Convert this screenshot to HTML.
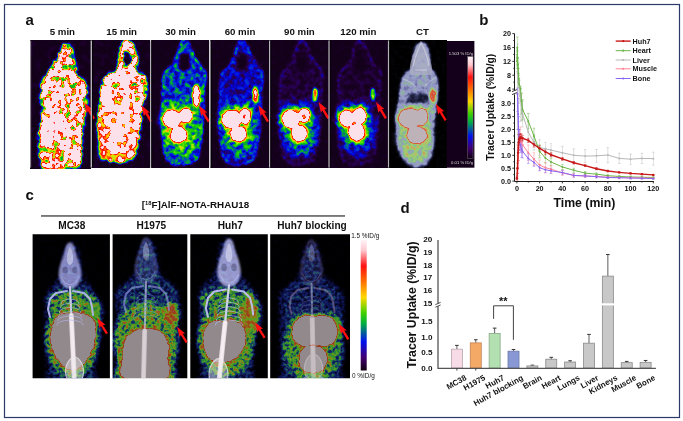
<!DOCTYPE html>
<html><head><meta charset="utf-8"><title>Figure</title>
<style>
html,body{margin:0;padding:0;background:#fff;}
body{width:683px;height:421px;overflow:hidden;position:relative;font-family:'Liberation Sans', Arial, sans-serif;}
svg{position:absolute;left:0;top:0;}
svg text{font-family:'Liberation Sans', Arial, sans-serif;fill:#111;}
.tk{font-size:7.2px;font-weight:bold;}
.tkd{font-size:8.1px;font-weight:bold;}
.lg{font-size:7.2px;font-weight:bold;}
.xl{font-size:8.0px;font-weight:bold;}
.lab{font-size:9.7px;font-weight:bold;}
.pl{font-size:15px;font-weight:bold;}
</style></head><body>
<svg width="683" height="421" viewBox="0 0 683 421">

<rect x="4.5" y="4.5" width="675" height="413" fill="#fff" stroke="#2b3a66" stroke-width="1.2"/>
<defs>
<filter id="pct" x="0" y="0" width="1" height="1" color-interpolation-filters="sRGB">
<feGaussianBlur in="SourceGraphic" stdDeviation="0.9" result="b"/>
<feColorMatrix in="b" type="matrix" values="1 0 0 0 0  1 0 0 0 0  1 0 0 0 0  0 0 0 0 1" result="br"/>
<feColorMatrix in="b" type="matrix" values="0 1 0 0 0  0 1 0 0 0  0 1 0 0 0  0 0 0 0 1" result="bg"/>
<feTurbulence type="fractalNoise" baseFrequency="0.22" numOctaves="2" seed="5" result="n0"/>
<feColorMatrix in="n0" type="matrix" values="2.4 0 0 0 -0.7  2.4 0 0 0 -0.7  2.4 0 0 0 -0.7  0 0 0 0 1" result="n"/>
<feComposite in="br" in2="n" operator="arithmetic" k1="0.45" k2="0.82" k3="0.03" k4="-0.015" result="m0"/>
<feComposite in="m0" in2="bg" operator="arithmetic" k1="0" k2="1" k3="1" k4="0" result="m"/>
<feComponentTransfer in="m">
<feFuncR type="table" tableValues="0.000 0.050 0.120 0.220 0.350 0.520 0.580 0.600 0.540 0.550 0.620 0.720 0.800 0.850 0.850 0.780 0.740 0.740 0.740 0.740 0.740"/>
<feFuncG type="table" tableValues="0.000 0.050 0.130 0.240 0.370 0.540 0.600 0.630 0.700 0.780 0.800 0.750 0.600 0.400 0.300 0.550 0.700 0.700 0.700 0.700 0.700"/>
<feFuncB type="table" tableValues="0.000 0.100 0.250 0.400 0.550 0.720 0.780 0.760 0.600 0.500 0.450 0.400 0.350 0.250 0.200 0.500 0.720 0.720 0.720 0.720 0.720"/>
</feComponentTransfer>
</filter>
<filter id="pa" x="0" y="0" width="1" height="1" color-interpolation-filters="sRGB">
<feGaussianBlur in="SourceGraphic" stdDeviation="1.2" result="b"/>
<feColorMatrix in="b" type="matrix" values="1 0 0 0 0  1 0 0 0 0  1 0 0 0 0  0 0 0 0 1" result="br"/>
<feColorMatrix in="b" type="matrix" values="0 1 0 0 0  0 1 0 0 0  0 1 0 0 0  0 0 0 0 1" result="bg"/>
<feTurbulence type="fractalNoise" baseFrequency="0.17" numOctaves="2" seed="3" result="n0"/>
<feColorMatrix in="n0" type="matrix" values="2.4 0 0 0 -0.7  2.4 0 0 0 -0.7  2.4 0 0 0 -0.7  0 0 0 0 1" result="n"/>
<feComposite in="br" in2="n" operator="arithmetic" k1="1.0" k2="0.45" k3="0.1" k4="-0.05" result="m0"/>
<feComposite in="m0" in2="bg" operator="arithmetic" k1="0" k2="1" k3="1" k4="0" result="m"/>
<feComponentTransfer in="m">
<feFuncR type="table" tableValues="0.075 0.110 0.160 0.060 0.000 0.000 0.000 0.050 0.250 0.600 0.950 1.000 1.000 1.000 1.000 0.990 0.990 0.990 0.990 0.990 0.990"/>
<feFuncG type="table" tableValues="0.000 0.000 0.000 0.000 0.040 0.250 0.550 0.780 0.860 0.900 0.880 0.620 0.350 0.120 0.050 0.870 0.880 0.880 0.880 0.880 0.880"/>
<feFuncB type="table" tableValues="0.100 0.170 0.330 0.620 0.920 0.800 0.350 0.050 0.000 0.000 0.000 0.000 0.000 0.000 0.020 0.910 0.920 0.920 0.920 0.920 0.920"/>
</feComponentTransfer>
</filter>
<filter id="pb" x="0" y="0" width="1" height="1" color-interpolation-filters="sRGB">
<feGaussianBlur in="SourceGraphic" stdDeviation="1.0" result="b"/>
<feColorMatrix in="b" type="matrix" values="1 0 0 0 0  1 0 0 0 0  1 0 0 0 0  0 0 0 0 1" result="br"/>
<feColorMatrix in="b" type="matrix" values="0 1 0 0 0  0 1 0 0 0  0 1 0 0 0  0 0 0 0 1" result="bg"/>
<feTurbulence type="fractalNoise" baseFrequency="0.2" numOctaves="2" seed="7" result="n0"/>
<feColorMatrix in="n0" type="matrix" values="2.4 0 0 0 -0.7  2.4 0 0 0 -0.7  2.4 0 0 0 -0.7  0 0 0 0 1" result="n"/>
<feComposite in="br" in2="n" operator="arithmetic" k1="0.6" k2="0.7" k3="0.05" k4="-0.025" result="m0"/>
<feComposite in="m0" in2="bg" operator="arithmetic" k1="0" k2="1" k3="1" k4="0" result="m"/>
<feComponentTransfer in="m">
<feFuncR type="table" tableValues="0.075 0.110 0.160 0.060 0.000 0.000 0.000 0.050 0.250 0.600 0.950 1.000 1.000 1.000 1.000 0.990 0.990 0.990 0.990 0.990 0.990"/>
<feFuncG type="table" tableValues="0.000 0.000 0.000 0.000 0.040 0.250 0.550 0.780 0.860 0.900 0.880 0.620 0.350 0.120 0.050 0.870 0.880 0.880 0.880 0.880 0.880"/>
<feFuncB type="table" tableValues="0.100 0.170 0.330 0.620 0.920 0.800 0.350 0.050 0.000 0.000 0.000 0.000 0.000 0.000 0.020 0.910 0.920 0.920 0.920 0.920 0.920"/>
</feComponentTransfer>
</filter>
<filter id="bl1" x="-20%" y="-20%" width="140%" height="140%"><feGaussianBlur stdDeviation="1"/></filter>
<filter id="bl2" x="-20%" y="-20%" width="140%" height="140%"><feGaussianBlur stdDeviation="2"/></filter>
<filter id="bl05" x="-20%" y="-20%" width="140%" height="140%"><feGaussianBlur stdDeviation="0.5"/></filter>
<linearGradient id="cbar" x1="0" y1="0" x2="0" y2="1"><stop offset="0" stop-color="#fff4f8"/><stop offset="0.08" stop-color="#ffc8d0"/><stop offset="0.2" stop-color="#ff1010"/><stop offset="0.32" stop-color="#ff7000"/><stop offset="0.44" stop-color="#ffd800"/><stop offset="0.56" stop-color="#40d000"/><stop offset="0.64" stop-color="#00b040"/><stop offset="0.78" stop-color="#0010f0"/><stop offset="0.9" stop-color="#400070"/><stop offset="1" stop-color="#100010"/></linearGradient>
<filter id="pc" x="0" y="0" width="1" height="1" color-interpolation-filters="sRGB">
<feGaussianBlur in="SourceGraphic" stdDeviation="1.0" result="b"/>
<feColorMatrix in="b" type="matrix" values="1 0 0 0 0  1 0 0 0 0  1 0 0 0 0  0 0 0 0 1" result="br"/>
<feColorMatrix in="b" type="matrix" values="0 1 0 0 0  0 1 0 0 0  0 1 0 0 0  0 0 0 0 1" result="bg"/>
<feTurbulence type="fractalNoise" baseFrequency="0.28" numOctaves="2" seed="11" result="n0"/>
<feColorMatrix in="n0" type="matrix" values="2.4 0 0 0 -0.7  2.4 0 0 0 -0.7  2.4 0 0 0 -0.7  0 0 0 0 1" result="n"/>
<feComposite in="br" in2="n" operator="arithmetic" k1="0.8" k2="0.55" k3="0.04" k4="-0.02" result="m0"/>
<feComposite in="m0" in2="bg" operator="arithmetic" k1="0" k2="1" k3="1" k4="0" result="m"/>
<feComponentTransfer in="m">
<feFuncR type="table" tableValues="0.000 0.010 0.030 0.060 0.080 0.100 0.160 0.220 0.320 0.460 0.560 0.600 0.620 0.600 0.580 0.570 0.570 0.570 0.570 0.570 0.570"/>
<feFuncG type="table" tableValues="0.000 0.010 0.040 0.080 0.160 0.320 0.480 0.580 0.620 0.580 0.460 0.320 0.220 0.240 0.460 0.540 0.540 0.540 0.540 0.540 0.540"/>
<feFuncB type="table" tableValues="0.000 0.060 0.180 0.340 0.420 0.360 0.240 0.180 0.140 0.120 0.100 0.100 0.100 0.140 0.440 0.550 0.550 0.550 0.550 0.550 0.550"/>
</feComponentTransfer>
</filter>
<clipPath id="cc0"><rect x="32.6" y="234.3" width="77.3" height="143.89999999999998"/></clipPath>
<clipPath id="cc1"><rect x="112.6" y="234.3" width="74.7" height="143.89999999999998"/></clipPath>
<clipPath id="cc2"><rect x="190.3" y="234.3" width="77.5" height="143.89999999999998"/></clipPath>
<clipPath id="cc3"><rect x="270.2" y="234.3" width="79.8" height="143.89999999999998"/></clipPath>
</defs>
<g filter="url(#pa)"><rect x="30.5" y="40.5" width="60.3" height="127.1" fill="#000"/>
<path d="M66.5,43.4 C68.0,44.1 70.5,47.2 71.9,50.5 C73.3,53.8 73.9,58.9 75.0,63.1 C76.1,67.3 76.6,71.9 78.4,75.6 C80.2,79.2 84.6,80.3 86.0,85.0 C87.4,89.7 87.0,98.0 86.6,103.8 C86.2,109.5 84.6,113.2 83.8,119.5 C83.0,125.8 82.4,134.6 81.9,141.4 C81.4,148.2 81.9,156.3 80.7,160.5 C79.5,164.7 81.2,165.8 75.0,166.8 C68.8,167.9 49.6,168.9 43.7,166.8 C37.9,164.7 40.7,159.8 39.9,154.0 C39.1,148.2 38.6,138.8 39.0,132.0 C39.4,125.2 41.8,120.5 42.1,113.2 C42.4,105.9 39.8,94.8 40.8,88.0 C41.8,81.2 45.2,77.7 48.0,72.5 C50.8,67.3 55.4,61.2 57.8,56.8 C60.2,52.4 61.1,48.4 62.6,46.2 C64.0,44.0 65.0,42.7 66.5,43.4Z" fill="rgb(235,13,0)" stroke="rgb(107,0,0)" stroke-width="2.6"/>
<ellipse cx="54" cy="156" rx="13" ry="9" fill="rgb(140,31,0)" filter="url(#bl2)"/>
<ellipse cx="66" cy="62" rx="6" ry="14" fill="rgb(178,0,0)" filter="url(#bl2)"/>
<ellipse cx="75" cy="120" rx="5" ry="14" fill="rgb(204,0,0)" filter="url(#bl2)"/>
<ellipse cx="66" cy="95" rx="16" ry="20" fill="rgb(219,0,0)" filter="url(#bl2)"/>
<ellipse cx="52" cy="128" rx="9" ry="13" fill="rgb(140,133,0)" filter="url(#bl2)"/>
<ellipse cx="48" cy="84" rx="5" ry="6" fill="rgb(153,122,0)" filter="url(#bl2)"/>
</g>
<g filter="url(#pa)"><rect x="91.4" y="40.5" width="58.0" height="127.1" fill="#000"/>
<path d="M126.0,41.8 C127.8,41.7 130.5,41.8 132.3,44.3 C134.1,46.8 136.1,52.4 137.0,56.8 C137.9,61.2 136.4,68.0 137.5,70.9 C138.6,73.8 141.8,72.2 143.3,74.0 C144.8,75.8 146.1,78.0 146.4,81.9 C146.7,85.8 145.7,92.4 144.9,97.6 C144.1,102.8 142.6,107.5 141.7,113.2 C140.8,118.9 140.3,126.2 139.5,132.0 C138.7,137.8 138.2,143.2 137.0,147.7 C135.8,152.1 134.9,156.3 132.3,158.7 C129.7,161.1 125.5,161.9 121.3,162.0 C117.1,162.1 110.8,161.9 107.2,159.0 C103.6,156.1 101.0,150.1 99.4,144.6 C97.8,139.1 97.7,133.1 97.8,125.8 C97.9,118.5 99.2,108.0 100.0,100.7 C100.8,93.4 101.0,86.4 102.5,81.9 C104.0,77.5 106.5,76.1 108.8,74.0 C111.1,71.9 114.8,72.7 116.6,69.3 C118.4,65.9 119.0,57.8 119.8,53.7 C120.6,49.6 120.3,46.9 121.3,44.9 C122.3,42.9 124.2,41.9 126.0,41.8Z" fill="rgb(230,46,0)" stroke="rgb(128,0,0)" stroke-width="2.4"/>
<ellipse cx="103" cy="142" rx="5" ry="19" fill="rgb(64,107,0)" filter="url(#bl1)"/>
<ellipse cx="119" cy="157" rx="14" ry="4.5" fill="rgb(64,107,0)" filter="url(#bl1)"/>
<ellipse cx="131" cy="146" rx="5" ry="7" fill="rgb(76,97,0)" filter="url(#bl2)"/>
<ellipse cx="118" cy="92" rx="6" ry="9" fill="rgb(178,0,0)" filter="url(#bl2)"/>
<ellipse cx="135" cy="90" rx="5" ry="12" fill="rgb(178,0,0)" filter="url(#bl2)"/>
<ellipse cx="142" cy="82" rx="3" ry="4" fill="rgb(140,0,0)" filter="url(#bl1)"/>
<ellipse cx="127.5" cy="58" rx="6.5" ry="10" fill="rgb(153,0,0)" filter="url(#bl1)"/>
<ellipse cx="127.5" cy="58.5" rx="3.8" ry="6.5" fill="rgb(13,0,0)" filter="url(#bl05)"/>
</g>
<g filter="url(#pb)"><rect x="151.0" y="40.5" width="58.0" height="127.1" fill="#000"/>
<path d="M184.5,41.5 C186.2,41.5 188.3,43.4 190.0,46.0 C191.7,48.6 192.8,53.7 194.5,57.0 C196.2,60.3 198.2,63.3 200.0,66.0 C201.8,68.7 204.3,69.3 205.0,73.0 C205.7,76.7 204.2,83.3 204.0,88.0 C203.8,92.7 203.8,96.0 203.5,101.0 C203.2,106.0 202.8,112.8 202.5,118.0 C202.2,123.2 202.1,126.7 201.5,132.0 C200.9,137.3 199.9,145.3 199.0,150.0 C198.1,154.7 198.5,157.7 196.0,160.0 C193.5,162.3 188.0,163.5 184.0,164.0 C180.0,164.5 175.0,164.2 172.0,163.0 C169.0,161.8 167.5,160.8 166.0,157.0 C164.5,153.2 163.6,146.2 163.0,140.0 C162.4,133.8 162.6,126.7 162.5,120.0 C162.4,113.3 162.4,105.8 162.5,100.0 C162.6,94.2 162.7,89.5 163.0,85.0 C163.3,80.5 163.0,76.2 164.5,73.0 C166.0,69.8 170.0,68.7 172.0,66.0 C174.0,63.3 175.2,60.3 176.5,57.0 C177.8,53.7 178.2,48.6 179.5,46.0 C180.8,43.4 182.8,41.5 184.5,41.5Z" fill="rgb(60,0,0)" stroke="rgb(75,0,0)" stroke-width="3"/>
<ellipse cx="182.0" cy="104" rx="19" ry="5" fill="rgb(72,0,0)" filter="url(#bl2)"/>
<ellipse cx="182.0" cy="132" rx="19" ry="26" fill="rgb(84,0,0)" filter="url(#bl2)"/>
<ellipse cx="184.5" cy="62" rx="5.5" ry="9.5" fill="rgb(5,0,0)" filter="url(#bl1)"/>
<ellipse cx="172.0" cy="119.0" rx="13.0" ry="13.0" fill="rgb(110,0,0)" filter="url(#bl2)"/>
<ellipse cx="185.6" cy="115.8" rx="9.4" ry="10.2" fill="rgb(110,0,0)" filter="url(#bl2)"/>
<ellipse cx="178.7" cy="134.8" rx="11.6" ry="11.3" fill="rgb(110,0,0)" filter="url(#bl2)"/>
<ellipse cx="172.0" cy="119.0" rx="9.0" ry="9.0" fill="rgb(0,255,0)"/>
<ellipse cx="185.6" cy="115.8" rx="6.5" ry="7.0" fill="rgb(0,255,0)"/>
<ellipse cx="178.7" cy="134.8" rx="8.0" ry="7.8" fill="rgb(0,255,0)"/>
<ellipse cx="196.3" cy="96.0" rx="3.6" ry="11.0" fill="rgb(97,145,0)" filter="url(#bl05)"/>
</g>
<g filter="url(#pb)"><rect x="210.3" y="40.5" width="59.0" height="127.1" fill="#000"/>
<path d="M242.0,41.5 C243.8,41.5 245.8,43.4 247.5,46.0 C249.2,48.6 250.3,53.7 252.0,57.0 C253.7,60.3 255.8,63.3 257.5,66.0 C259.2,68.7 261.8,69.3 262.5,73.0 C263.2,76.7 261.8,83.3 261.5,88.0 C261.2,92.7 261.2,96.0 261.0,101.0 C260.8,106.0 260.3,112.8 260.0,118.0 C259.7,123.2 259.6,126.7 259.0,132.0 C258.4,137.3 257.4,145.3 256.5,150.0 C255.6,154.7 256.0,157.7 253.5,160.0 C251.0,162.3 245.5,163.5 241.5,164.0 C237.5,164.5 232.5,164.2 229.5,163.0 C226.5,161.8 225.0,160.8 223.5,157.0 C222.0,153.2 221.1,146.2 220.5,140.0 C219.9,133.8 220.1,126.7 220.0,120.0 C219.9,113.3 219.9,105.8 220.0,100.0 C220.1,94.2 220.2,89.5 220.5,85.0 C220.8,80.5 220.5,76.2 222.0,73.0 C223.5,69.8 227.5,68.7 229.5,66.0 C231.5,63.3 232.8,60.3 234.0,57.0 C235.2,53.7 235.7,48.6 237.0,46.0 C238.3,43.4 240.2,41.5 242.0,41.5Z" fill="rgb(41,0,0)" stroke="rgb(56,0,0)" stroke-width="3"/>
<ellipse cx="239.5" cy="104" rx="19" ry="5" fill="rgb(55,0,0)" filter="url(#bl2)"/>
<ellipse cx="239.5" cy="132" rx="19" ry="26" fill="rgb(69,0,0)" filter="url(#bl2)"/>
<ellipse cx="242.0" cy="62" rx="5.5" ry="9.5" fill="rgb(5,0,0)" filter="url(#bl1)"/>
<ellipse cx="231.6" cy="119.3" rx="13.9" ry="12.9" fill="rgb(110,0,0)" filter="url(#bl2)"/>
<ellipse cx="245.0" cy="116.2" rx="8.0" ry="11.6" fill="rgb(110,0,0)" filter="url(#bl2)"/>
<ellipse cx="238.6" cy="134.0" rx="11.7" ry="10.6" fill="rgb(110,0,0)" filter="url(#bl2)"/>
<ellipse cx="231.6" cy="119.3" rx="9.6" ry="8.9" fill="rgb(0,255,0)"/>
<ellipse cx="245.0" cy="116.2" rx="5.5" ry="8.0" fill="rgb(0,255,0)"/>
<ellipse cx="238.6" cy="134.0" rx="8.1" ry="7.3" fill="rgb(0,255,0)"/>
<ellipse cx="244.2" cy="116.6" rx="1.5" ry="3.0" fill="rgb(128,0,0)"/>
<ellipse cx="255.5" cy="95.0" rx="2.8" ry="9.0" fill="rgb(75,113,0)" filter="url(#bl05)"/>
</g>
<g filter="url(#pb)"><rect x="269.9" y="40.5" width="59.4" height="127.1" fill="#000"/>
<path d="M302.0,41.5 C303.8,41.5 305.8,43.4 307.5,46.0 C309.2,48.6 310.3,53.7 312.0,57.0 C313.7,60.3 315.8,63.3 317.5,66.0 C319.2,68.7 321.8,69.3 322.5,73.0 C323.2,76.7 321.8,83.3 321.5,88.0 C321.2,92.7 321.2,96.0 321.0,101.0 C320.8,106.0 320.3,112.8 320.0,118.0 C319.7,123.2 319.6,126.7 319.0,132.0 C318.4,137.3 317.4,145.3 316.5,150.0 C315.6,154.7 316.0,157.7 313.5,160.0 C311.0,162.3 305.5,163.5 301.5,164.0 C297.5,164.5 292.5,164.2 289.5,163.0 C286.5,161.8 285.0,160.8 283.5,157.0 C282.0,153.2 281.1,146.2 280.5,140.0 C279.9,133.8 280.1,126.7 280.0,120.0 C279.9,113.3 279.9,105.8 280.0,100.0 C280.1,94.2 280.2,89.5 280.5,85.0 C280.8,80.5 280.5,76.2 282.0,73.0 C283.5,69.8 287.5,68.7 289.5,66.0 C291.5,63.3 292.8,60.3 294.0,57.0 C295.2,53.7 295.7,48.6 297.0,46.0 C298.3,43.4 300.2,41.5 302.0,41.5Z" fill="rgb(16,0,0)" stroke="rgb(31,0,0)" stroke-width="3"/>
<ellipse cx="299.5" cy="104" rx="19" ry="5" fill="rgb(39,0,0)" filter="url(#bl2)"/>
<ellipse cx="299.5" cy="132" rx="19" ry="26" fill="rgb(61,0,0)" filter="url(#bl2)"/>
<ellipse cx="302.0" cy="62" rx="5.5" ry="9.5" fill="rgb(5,0,0)" filter="url(#bl1)"/>
<ellipse cx="290.8" cy="119.0" rx="12.5" ry="13.0" fill="rgb(110,0,0)" filter="url(#bl2)"/>
<ellipse cx="304.2" cy="115.4" rx="8.4" ry="9.9" fill="rgb(110,0,0)" filter="url(#bl2)"/>
<ellipse cx="299.3" cy="133.6" rx="11.2" ry="11.3" fill="rgb(110,0,0)" filter="url(#bl2)"/>
<ellipse cx="290.8" cy="119.0" rx="8.6" ry="9.0" fill="rgb(0,255,0)"/>
<ellipse cx="304.2" cy="115.4" rx="5.8" ry="6.8" fill="rgb(0,255,0)"/>
<ellipse cx="299.3" cy="133.6" rx="7.7" ry="7.8" fill="rgb(0,255,0)"/>
<ellipse cx="304.1" cy="116.6" rx="1.6" ry="3.0" fill="rgb(128,0,0)"/>
<ellipse cx="315.0" cy="94.5" rx="2.6" ry="7.0" fill="rgb(61,92,0)" filter="url(#bl05)"/>
</g>
<g filter="url(#pb)"><rect x="329.3" y="40.5" width="58.7" height="127.1" fill="#000"/>
<path d="M360.0,41.5 C361.8,41.5 363.8,43.4 365.5,46.0 C367.2,48.6 368.3,53.7 370.0,57.0 C371.7,60.3 373.8,63.3 375.5,66.0 C377.2,68.7 379.8,69.3 380.5,73.0 C381.2,76.7 379.8,83.3 379.5,88.0 C379.2,92.7 379.2,96.0 379.0,101.0 C378.8,106.0 378.3,112.8 378.0,118.0 C377.7,123.2 377.6,126.7 377.0,132.0 C376.4,137.3 375.4,145.3 374.5,150.0 C373.6,154.7 374.0,157.7 371.5,160.0 C369.0,162.3 363.5,163.5 359.5,164.0 C355.5,164.5 350.5,164.2 347.5,163.0 C344.5,161.8 343.0,160.8 341.5,157.0 C340.0,153.2 339.1,146.2 338.5,140.0 C337.9,133.8 338.1,126.7 338.0,120.0 C337.9,113.3 337.9,105.8 338.0,100.0 C338.1,94.2 338.2,89.5 338.5,85.0 C338.8,80.5 338.5,76.2 340.0,73.0 C341.5,69.8 345.5,68.7 347.5,66.0 C349.5,63.3 350.8,60.3 352.0,57.0 C353.2,53.7 353.7,48.6 355.0,46.0 C356.3,43.4 358.2,41.5 360.0,41.5Z" fill="rgb(12,0,0)" stroke="rgb(28,0,0)" stroke-width="3"/>
<ellipse cx="357.5" cy="104" rx="19" ry="5" fill="rgb(32,0,0)" filter="url(#bl2)"/>
<ellipse cx="357.5" cy="132" rx="19" ry="26" fill="rgb(51,0,0)" filter="url(#bl2)"/>
<ellipse cx="360.0" cy="62" rx="5.5" ry="9.5" fill="rgb(5,0,0)" filter="url(#bl1)"/>
<ellipse cx="346.7" cy="118.4" rx="10.7" ry="12.0" fill="rgb(110,0,0)" filter="url(#bl2)"/>
<ellipse cx="359.6" cy="115.7" rx="9.6" ry="11.6" fill="rgb(110,0,0)" filter="url(#bl2)"/>
<ellipse cx="356.7" cy="132.2" rx="11.9" ry="11.9" fill="rgb(110,0,0)" filter="url(#bl2)"/>
<ellipse cx="346.7" cy="118.4" rx="7.4" ry="8.3" fill="rgb(0,255,0)"/>
<ellipse cx="359.6" cy="115.7" rx="6.6" ry="8.0" fill="rgb(0,255,0)"/>
<ellipse cx="356.7" cy="132.2" rx="8.2" ry="8.2" fill="rgb(0,255,0)"/>
<ellipse cx="373.0" cy="94.5" rx="2.4" ry="6.5" fill="rgb(46,69,0)" filter="url(#bl05)"/>
</g>
<g filter="url(#pct)"><rect x="388.8" y="40.5" width="58.0" height="127.1" fill="#000"/>
<path d="M421.5,42.5 C423.3,42.5 425.6,42.9 427.0,45.0 C428.4,47.1 429.3,51.2 430.0,55.0 C430.7,58.8 430.0,64.8 431.0,68.0 C432.0,71.2 434.8,71.0 436.0,74.0 C437.2,77.0 438.2,81.7 438.5,86.0 C438.8,90.3 438.0,95.0 437.5,100.0 C437.0,105.0 436.1,110.7 435.5,116.0 C434.9,121.3 434.4,126.7 434.0,132.0 C433.6,137.3 433.7,143.3 433.0,148.0 C432.3,152.7 431.5,157.0 430.0,160.0 C428.5,163.0 427.3,165.0 424.0,166.0 C420.7,167.0 413.3,167.0 410.0,166.0 C406.7,165.0 406.0,163.0 404.0,160.0 C402.0,157.0 399.2,152.7 398.0,148.0 C396.8,143.3 396.9,137.3 396.5,132.0 C396.1,126.7 395.2,121.3 395.5,116.0 C395.8,110.7 397.8,105.0 398.5,100.0 C399.2,95.0 399.1,90.3 400.0,86.0 C400.9,81.7 402.2,77.0 404.0,74.0 C405.8,71.0 409.5,71.2 411.0,68.0 C412.5,64.8 412.2,58.8 413.0,55.0 C413.8,51.2 414.6,47.1 416.0,45.0 C417.4,42.9 419.7,42.5 421.5,42.5Z" fill="rgb(76,0,0)"/>
<path d="M407,104 C406,97 409,92 414,92 C416,93 417,95 418,96 C419,94 421,92 424,92 C428,93 430,98 429,105 C422,106 413,106 407,104Z" fill="rgb(20,0,0)" filter="url(#bl1)"/>
<ellipse cx="417.5" cy="110" rx="16" ry="6" fill="rgb(117,0,0)" filter="url(#bl2)"/>
<ellipse cx="415" cy="138" rx="18" ry="20" fill="rgb(107,0,0)" filter="url(#bl2)"/>
<ellipse cx="416" cy="152" rx="14" ry="9" fill="rgb(117,0,0)" filter="url(#bl2)"/>
<ellipse cx="433" cy="96" rx="3.2" ry="7.5" fill="rgb(76,115,0)" filter="url(#bl05)"/>
<ellipse cx="410.0" cy="118.4" rx="14.3" ry="12.5" fill="rgb(115,0,0)" filter="url(#bl1)"/>
<ellipse cx="422.0" cy="116.9" rx="7.3" ry="10.7" fill="rgb(115,0,0)" filter="url(#bl1)"/>
<ellipse cx="417.0" cy="135.2" rx="13.3" ry="10.7" fill="rgb(115,0,0)" filter="url(#bl1)"/>
<ellipse cx="410.0" cy="118.4" rx="11.0" ry="9.6" fill="rgb(0,255,0)"/>
<ellipse cx="422.0" cy="116.9" rx="5.6" ry="8.2" fill="rgb(0,255,0)"/>
<ellipse cx="417.0" cy="135.2" rx="10.2" ry="8.2" fill="rgb(0,255,0)"/>
</g>
<g stroke="#d8d8e4" stroke-width="1.3" opacity="0.45" fill="none" filter="url(#bl05)"><path d="M403,79 Q410,81 416,87 M437,77 Q430,80 425,86"/></g>
<path d="M421,41 C424,44 428,52 430,60 C432,66 433,71 431,75 L411,75 C409,70 410,64 412,58 C414,50 418,44 421,41Z" fill="#aeb0c6" opacity="0.72" filter="url(#bl05)"/>
<path d="M421,43 C418,50 415,57 413,66 M421,43 C425,50 428,58 429,66 M415,70 L427,70" stroke="#e4e4f0" stroke-width="1" fill="none" opacity="0.6" filter="url(#bl05)"/>
<rect x="446.8" y="41" width="27.6" height="126.7" fill="#14001a"/>
<rect x="467.8" y="56.6" width="5.2" height="101.9" fill="url(#cbar)" stroke="#888" stroke-width="0.4"/>
<text x="473" y="54.8" text-anchor="end" font-size="4.2" fill="#ddd" style="fill:#ddd">1.503 % ID/g</text>
<text x="473" y="163.5" text-anchor="end" font-size="4.2" fill="#ddd" style="fill:#ddd">0.01 % ID/g</text>
<polygon points="84.2,102.4 92.6,109.6 90.0,109.8 94.9,118.1 92.9,119.4 87.9,111.0 86.5,113.2" fill="#ff1010"/>
<polygon points="141.6,105.4 150.0,112.6 147.4,112.8 152.3,121.1 150.3,122.4 145.3,114.0 143.9,116.2" fill="#ff1010"/>
<polygon points="198.9,105.3 207.3,112.5 204.7,112.7 209.6,121.0 207.6,122.3 202.6,113.9 201.2,116.1" fill="#ff1010"/>
<polygon points="258.3,105.3 266.7,112.5 264.1,112.7 269.0,121.0 267.0,122.3 262.0,113.9 260.6,116.1" fill="#ff1010"/>
<polygon points="318.6,101.9 327.0,109.1 324.4,109.3 329.3,117.6 327.3,118.9 322.3,110.5 320.9,112.7" fill="#ff1010"/>
<polygon points="376.1,101.9 384.5,109.1 381.9,109.3 386.8,117.6 384.8,118.9 379.8,110.5 378.4,112.7" fill="#ff1010"/>
<polygon points="435.9,104.0 444.3,111.2 441.7,111.4 446.6,119.7 444.6,121.0 439.6,112.6 438.2,114.8" fill="#ff1010"/>
<rect x="90.6" y="40.5" width="1.4" height="127.1" fill="#b6b2ba"/>
<rect x="92.0" y="40.5" width="0.8" height="127.1" fill="#000"/>
<rect x="150.0" y="40.5" width="1.4" height="127.1" fill="#b6b2ba"/>
<rect x="151.4" y="40.5" width="0.8" height="127.1" fill="#000"/>
<rect x="209.4" y="40.5" width="1.4" height="127.1" fill="#b6b2ba"/>
<rect x="210.8" y="40.5" width="0.8" height="127.1" fill="#000"/>
<rect x="269.0" y="40.5" width="1.4" height="127.1" fill="#b6b2ba"/>
<rect x="270.4" y="40.5" width="0.8" height="127.1" fill="#000"/>
<rect x="328.4" y="40.5" width="1.4" height="127.1" fill="#b6b2ba"/>
<rect x="329.79999999999995" y="40.5" width="0.8" height="127.1" fill="#000"/>
<rect x="387.9" y="40.5" width="1.4" height="127.1" fill="#b6b2ba"/>
<rect x="389.29999999999995" y="40.5" width="0.8" height="127.1" fill="#000"/>
<rect x="30.2" y="40.5" width="0.9" height="127.1" fill="#a8a4aa"/>
<g clip-path="url(#cc0)">
<g filter="url(#pc)"><rect x="32.6" y="234.3" width="77.3" height="143.89999999999998" fill="#000"/>
<path d="M71.3,242.0 C73.3,242.0 75.6,244.7 77.3,248.0 C79.0,251.3 80.1,257.0 81.3,262.0 C82.5,267.0 81.8,272.7 84.3,278.0 C86.8,283.3 94.1,288.3 96.3,294.0 C98.5,299.7 97.3,304.8 97.3,312.0 C97.3,319.2 96.6,328.0 96.3,337.0 C96.0,346.0 95.8,358.5 95.3,366.0 C94.8,373.5 101.0,379.3 93.3,382.0 C85.6,384.7 57.0,384.7 49.3,382.0 C41.6,379.3 47.8,373.5 47.3,366.0 C46.8,358.5 46.6,346.0 46.3,337.0 C46.0,328.0 45.3,319.2 45.3,312.0 C45.3,304.8 44.1,299.7 46.3,294.0 C48.5,288.3 55.8,283.3 58.3,278.0 C60.8,272.7 60.1,267.0 61.3,262.0 C62.5,257.0 63.6,251.3 65.3,248.0 C67.0,244.7 69.3,242.0 71.3,242.0Z" fill="rgb(43,0,0)" filter="url(#bl2)"/>
<ellipse cx="72" cy="340" rx="26" ry="36" fill="rgb(97,0,0)" filter="url(#bl2)"/>
<ellipse cx="72" cy="302" rx="24" ry="12" fill="rgb(92,0,0)" filter="url(#bl2)"/>
<path d="M52.5,313.6 C55.5,309.3 59.7,309.1 64.5,308.2 C69.2,307.3 76.0,307.2 81.2,308.2 C86.5,309.2 92.6,310.9 95.7,314.2 C98.8,317.5 99.5,322.7 99.8,328.0 C100.1,333.3 99.0,340.4 97.5,346.0 C96.0,351.6 93.5,357.2 90.8,361.6 C88.1,366.0 84.8,370.1 81.2,372.4 C77.7,374.7 73.2,376.4 69.2,375.4 C65.2,374.4 60.6,370.3 57.2,366.4 C53.9,362.5 50.6,357.4 48.9,352.0 C47.1,346.6 45.9,340.4 46.5,334.0 C47.1,327.6 49.5,317.9 52.5,313.6Z" fill="rgb(107,0,0)" filter="url(#bl2)"/>
<ellipse cx="94" cy="312" rx="8.4" ry="12.5" fill="rgb(107,0,0)" filter="url(#bl2)"/>
<ellipse cx="94" cy="312" rx="6" ry="10" fill="rgb(32,64,0)" filter="url(#bl1)"/>
<path d="M56.0,318.0 C58.5,314.4 62.0,314.2 66.0,313.5 C70.0,312.8 75.7,312.7 80.0,313.5 C84.3,314.3 89.4,315.8 92.0,318.5 C94.6,321.2 95.2,325.6 95.5,330.0 C95.8,334.4 94.8,340.3 93.5,345.0 C92.2,349.7 90.2,354.3 88.0,358.0 C85.8,361.7 83.0,365.1 80.0,367.0 C77.0,368.9 73.3,370.3 70.0,369.5 C66.7,368.7 62.8,365.2 60.0,362.0 C57.2,358.8 54.5,354.5 53.0,350.0 C51.5,345.5 50.5,340.3 51.0,335.0 C51.5,329.7 53.5,321.6 56.0,318.0Z" fill="rgb(0,255,0)"/>
</g>
<g opacity="0.92" stroke="#b8b8f4" fill="none" stroke-linecap="round" stroke-linejoin="round">
<path d="M70.0,243.0 C71.0,243.0 72.1,244.0 73.0,246.0 C73.9,248.0 74.5,251.8 75.5,255.0 C76.5,258.2 78.2,261.7 79.0,265.0 C79.8,268.3 80.7,272.0 80.5,275.0 C80.3,278.0 79.1,281.0 78.0,283.0 C76.9,285.0 76.0,286.3 74.0,287.0 C72.0,287.7 68.0,287.7 66.0,287.0 C64.0,286.3 63.1,285.0 62.0,283.0 C60.9,281.0 59.7,278.0 59.5,275.0 C59.3,272.0 60.2,268.3 61.0,265.0 C61.8,261.7 63.5,258.2 64.5,255.0 C65.5,251.8 66.1,248.0 67.0,246.0 C67.9,244.0 69.0,243.0 70.0,243.0Z" fill="#b8b8f4" fill-opacity="0.75" stroke-width="1.2" filter="url(#bl1)"/>
<path d="M70.0,247.0 C70.8,247.0 72.0,250.7 72.5,253.0 C73.0,255.3 73.4,259.0 73.0,261.0 C72.6,263.0 71.0,265.0 70.0,265.0 C69.0,265.0 67.4,263.0 67.0,261.0 C66.6,259.0 67.0,255.3 67.5,253.0 C68.0,250.7 69.2,247.0 70.0,247.0Z" fill="#f0f0ff" fill-opacity="0.55" stroke="none" filter="url(#bl05)"/>
<ellipse cx="65.2" cy="270.0" rx="2.6" ry="3.6" fill="#2a2a50" fill-opacity="0.35" stroke="none" filter="url(#bl05)"/>
<ellipse cx="74.8" cy="270.0" rx="2.6" ry="3.6" fill="#2a2a50" fill-opacity="0.35" stroke="none" filter="url(#bl05)"/>
<path d="M61.0,277.0 65.0,283.0 70.0,285.0 75.0,283.0 79.0,277.0" stroke-width="1" opacity="0.8" filter="url(#bl05)"/>
<g filter="url(#bl05)">
<line x1="70.0" y1="287.0" x2="74.5" y2="383.0" stroke-width="2.2" opacity="0.8"/>
<line x1="70.0" y1="287.0" x2="74.5" y2="383.0" stroke="#f0f0ff" stroke-width="1.8" stroke-dasharray="1.3 0.9" opacity="0.7"/>
<line x1="71.3" y1="315.5" x2="74.5" y2="383.0" stroke="#efe6ec" stroke-width="5" opacity="0.85"/>
<line x1="71.3" y1="315.5" x2="74.5" y2="383.0" stroke="#fff6fa" stroke-width="3.6" stroke-dasharray="1.6 1.1" opacity="0.85"/>
<polyline points="67.0,291.0 56.0,293.0 50.0,299.0 48.0,309.0 50.0,317.0" stroke-width="2"/>
<polyline points="73.0,291.0 84.0,293.0 90.0,299.0 92.0,307.0 93.0,315.0" stroke-width="2"/>
<path d="M70.0,299.0 Q60.0,300.0 61.0,304.0" stroke-width="0.8" opacity="0.8"/>
<path d="M70.0,299.0 Q80.0,300.0 79.0,304.0" stroke-width="0.8" opacity="0.8"/>
<path d="M70.0,303.2 Q59.2,304.2 60.2,308.2" stroke-width="0.8" opacity="0.8"/>
<path d="M70.0,303.2 Q80.8,304.2 79.8,308.2" stroke-width="0.8" opacity="0.8"/>
<path d="M70.0,307.4 Q58.4,308.4 59.4,312.4" stroke-width="0.8" opacity="0.8"/>
<path d="M70.0,307.4 Q81.6,308.4 80.6,312.4" stroke-width="0.8" opacity="0.8"/>
<path d="M70.0,311.6 Q57.6,312.6 58.6,316.6" stroke-width="0.8" opacity="0.8"/>
<path d="M70.0,311.6 Q82.4,312.6 81.4,316.6" stroke-width="0.8" opacity="0.8"/>
<path d="M70.0,315.8 Q56.8,316.8 57.8,320.8" stroke-width="0.8" opacity="0.8"/>
<path d="M70.0,315.8 Q83.2,316.8 82.2,320.8" stroke-width="0.8" opacity="0.8"/>
<path d="M70.0,320.0 Q56.0,321.0 57.0,325.0" stroke-width="0.8" opacity="0.8"/>
<path d="M70.0,320.0 Q84.0,321.0 83.0,325.0" stroke-width="0.8" opacity="0.8"/>
<path d="M74.5,357.0 C76.8,357.0 80.0,360.3 81.5,363.0 C83.0,365.7 83.7,370.0 83.5,373.0 C83.3,376.0 82.0,379.3 80.5,381.0 C79.0,382.7 76.5,383.0 74.5,383.0 C72.5,383.0 70.0,382.7 68.5,381.0 C67.0,379.3 65.7,376.0 65.5,373.0 C65.3,370.0 66.0,365.7 67.5,363.0 C69.0,360.3 72.2,357.0 74.5,357.0Z" fill="#f4eef2" fill-opacity="0.55" stroke="#f4eef4" stroke-width="1.2" opacity="0.8"/>
<polyline points="68.5,379.0 62.5,383.0 57.5,389.0" stroke="#e8e8f8" stroke-width="2"/>
<polyline points="80.5,379.0 86.5,383.0 91.5,389.0" stroke="#e8e8f8" stroke-width="2"/>
</g></g>
</g>
<g clip-path="url(#cc1)">
<g filter="url(#pc)"><rect x="112.6" y="234.3" width="74.7" height="143.89999999999998" fill="#000"/>
<path d="M147.5,238.0 C149.5,238.0 151.8,240.7 153.5,244.0 C155.2,247.3 156.3,253.0 157.5,258.0 C158.7,263.0 157.2,268.7 160.5,274.0 C163.8,279.3 174.5,284.3 177.5,290.0 C180.5,295.7 178.5,300.8 178.5,308.0 C178.5,315.2 177.8,323.0 177.5,333.0 C177.2,343.0 177.0,359.5 176.5,368.0 C176.0,376.5 183.8,381.3 174.5,384.0 C165.2,386.7 129.8,386.7 120.5,384.0 C111.2,381.3 119.0,376.5 118.5,368.0 C118.0,359.5 117.8,343.0 117.5,333.0 C117.2,323.0 116.5,315.2 116.5,308.0 C116.5,300.8 114.5,295.7 117.5,290.0 C120.5,284.3 131.2,279.3 134.5,274.0 C137.8,268.7 136.3,263.0 137.5,258.0 C138.7,253.0 139.8,247.3 141.5,244.0 C143.2,240.7 145.5,238.0 147.5,238.0Z" fill="rgb(48,0,0)" filter="url(#bl2)"/>
<ellipse cx="146" cy="342" rx="32" ry="40" fill="rgb(102,0,0)" filter="url(#bl2)"/>
<path d="M124.5,333.3 C127.3,330.3 131.7,327.5 136.5,326.1 C141.3,324.7 148.3,324.1 153.3,324.9 C158.3,325.7 163.3,327.7 166.5,330.9 C169.7,334.1 171.6,338.9 172.5,344.1 C173.4,349.3 172.3,355.6 171.9,362.1 C171.5,368.6 178.8,379.6 170.1,383.1 C161.4,386.6 128.4,386.6 119.7,383.1 C111.0,379.6 117.9,368.6 117.9,362.1 C117.9,355.6 118.6,348.9 119.7,344.1 C120.8,339.3 121.7,336.3 124.5,333.3Z" fill="rgb(107,0,0)" filter="url(#bl2)"/>
<ellipse cx="171" cy="314.5" rx="9.1" ry="13.1" fill="rgb(107,0,0)" filter="url(#bl2)"/>
<ellipse cx="171" cy="314.5" rx="6.5" ry="10.5" fill="rgb(49,98,0)" filter="url(#bl1)"/>
<path d="M128.0,336.0 C130.3,333.5 134.0,331.2 138.0,330.0 C142.0,328.8 147.8,328.3 152.0,329.0 C156.2,329.7 160.3,331.3 163.0,334.0 C165.7,336.7 167.2,340.7 168.0,345.0 C168.8,349.3 167.8,354.6 167.5,360.0 C167.2,365.4 173.2,374.6 166.0,377.5 C158.8,380.4 131.2,380.4 124.0,377.5 C116.8,374.6 122.5,365.4 122.5,360.0 C122.5,354.6 123.1,349.0 124.0,345.0 C124.9,341.0 125.7,338.5 128.0,336.0Z" fill="rgb(0,255,0)"/>
</g>
<g opacity="0.68" stroke="#8c94dc" fill="none" stroke-linecap="round" stroke-linejoin="round">
<path d="M146.0,238.0 C147.0,238.0 148.1,239.0 149.0,241.0 C149.9,243.0 150.5,246.8 151.5,250.0 C152.5,253.2 154.2,256.7 155.0,260.0 C155.8,263.3 156.7,267.0 156.5,270.0 C156.3,273.0 155.1,276.0 154.0,278.0 C152.9,280.0 152.0,281.3 150.0,282.0 C148.0,282.7 144.0,282.7 142.0,282.0 C140.0,281.3 139.1,280.0 138.0,278.0 C136.9,276.0 135.7,273.0 135.5,270.0 C135.3,267.0 136.2,263.3 137.0,260.0 C137.8,256.7 139.5,253.2 140.5,250.0 C141.5,246.8 142.1,243.0 143.0,241.0 C143.9,239.0 145.0,238.0 146.0,238.0Z" fill="#8c94dc" fill-opacity="0.3" stroke-width="1.2" filter="url(#bl1)"/>
<path d="M146.0,242.0 C146.8,242.0 148.0,245.7 148.5,248.0 C149.0,250.3 149.4,254.0 149.0,256.0 C148.6,258.0 147.0,260.0 146.0,260.0 C145.0,260.0 143.4,258.0 143.0,256.0 C142.6,254.0 143.0,250.3 143.5,248.0 C144.0,245.7 145.2,242.0 146.0,242.0Z" fill="#f0f0ff" fill-opacity="0.55" stroke="none" filter="url(#bl05)"/>
<ellipse cx="141.2" cy="265.0" rx="2.6" ry="3.6" fill="#2a2a50" fill-opacity="0.35" stroke="none" filter="url(#bl05)"/>
<ellipse cx="150.8" cy="265.0" rx="2.6" ry="3.6" fill="#2a2a50" fill-opacity="0.35" stroke="none" filter="url(#bl05)"/>
<path d="M137.0,272.0 141.0,278.0 146.0,280.0 151.0,278.0 155.0,272.0" stroke-width="1" opacity="0.8" filter="url(#bl05)"/>
<g filter="url(#bl05)">
<line x1="146.0" y1="282.0" x2="143.5" y2="378.0" stroke-width="2.2" opacity="0.8"/>
<line x1="146.0" y1="282.0" x2="143.5" y2="378.0" stroke="#f0f0ff" stroke-width="1.8" stroke-dasharray="1.3 0.9" opacity="0.7"/>
<line x1="144.7" y1="331.0" x2="143.5" y2="378.0" stroke="#efe6ec" stroke-width="5" opacity="0.8"/>
<line x1="144.7" y1="331.0" x2="143.5" y2="378.0" stroke="#fff6fa" stroke-width="3.6" stroke-dasharray="1.6 1.1" opacity="0.8"/>
<polyline points="143.0,286.0 132.0,288.0 126.0,294.0 124.0,304.0 126.0,312.0" stroke-width="2"/>
<polyline points="149.0,286.0 160.0,288.0 166.0,294.0 168.0,302.0 169.0,310.0" stroke-width="2"/>
<path d="M146.0,294.0 Q136.0,295.0 137.0,299.0" stroke-width="0.8" opacity="0.8"/>
<path d="M146.0,294.0 Q156.0,295.0 155.0,299.0" stroke-width="0.8" opacity="0.8"/>
<path d="M146.0,298.2 Q135.2,299.2 136.2,303.2" stroke-width="0.8" opacity="0.8"/>
<path d="M146.0,298.2 Q156.8,299.2 155.8,303.2" stroke-width="0.8" opacity="0.8"/>
<path d="M146.0,302.4 Q134.4,303.4 135.4,307.4" stroke-width="0.8" opacity="0.8"/>
<path d="M146.0,302.4 Q157.6,303.4 156.6,307.4" stroke-width="0.8" opacity="0.8"/>
<path d="M146.0,306.6 Q133.6,307.6 134.6,311.6" stroke-width="0.8" opacity="0.8"/>
<path d="M146.0,306.6 Q158.4,307.6 157.4,311.6" stroke-width="0.8" opacity="0.8"/>
<path d="M146.0,310.8 Q132.8,311.8 133.8,315.8" stroke-width="0.8" opacity="0.8"/>
<path d="M146.0,310.8 Q159.2,311.8 158.2,315.8" stroke-width="0.8" opacity="0.8"/>
<path d="M146.0,315.0 Q132.0,316.0 133.0,320.0" stroke-width="0.8" opacity="0.8"/>
<path d="M146.0,315.0 Q160.0,316.0 159.0,320.0" stroke-width="0.8" opacity="0.8"/>
</g></g>
</g>
<g clip-path="url(#cc2)">
<g filter="url(#pc)"><rect x="190.3" y="234.3" width="77.5" height="143.89999999999998" fill="#000"/>
<path d="M227.0,238.0 C229.0,238.0 231.3,240.7 233.0,244.0 C234.7,247.3 235.8,253.0 237.0,258.0 C238.2,263.0 237.2,268.7 240.0,274.0 C242.8,279.3 251.5,284.3 254.0,290.0 C256.5,295.7 255.0,300.8 255.0,308.0 C255.0,315.2 254.3,323.0 254.0,333.0 C253.7,343.0 253.5,359.5 253.0,368.0 C252.5,376.5 259.3,381.3 251.0,384.0 C242.7,386.7 211.3,386.7 203.0,384.0 C194.7,381.3 201.5,376.5 201.0,368.0 C200.5,359.5 200.3,343.0 200.0,333.0 C199.7,323.0 199.0,315.2 199.0,308.0 C199.0,300.8 197.5,295.7 200.0,290.0 C202.5,284.3 211.2,279.3 214.0,274.0 C216.8,268.7 215.8,263.0 217.0,258.0 C218.2,253.0 219.3,247.3 221.0,244.0 C222.7,240.7 225.0,238.0 227.0,238.0Z" fill="rgb(43,0,0)" filter="url(#bl2)"/>
<ellipse cx="226" cy="340" rx="28" ry="38" fill="rgb(99,0,0)" filter="url(#bl2)"/>
<ellipse cx="226" cy="300" rx="26" ry="12" fill="rgb(87,0,0)" filter="url(#bl2)"/>
<path d="M205.0,322.2 C207.4,319.7 211.4,317.3 214.6,316.8 C217.8,316.3 221.0,319.2 224.2,319.2 C227.4,319.2 230.2,316.1 233.8,316.8 C237.4,317.5 243.1,319.5 245.8,323.4 C248.5,327.3 250.2,335.0 250.0,340.2 C249.8,345.4 247.3,350.6 244.6,354.6 C241.9,358.6 238.0,362.1 233.8,364.2 C229.6,366.3 224.0,367.6 219.4,367.2 C214.8,366.8 209.4,365.1 206.2,361.8 C203.0,358.5 201.2,352.4 200.2,347.4 C199.2,342.4 199.4,336.0 200.2,331.8 C201.0,327.6 202.6,324.7 205.0,322.2Z" fill="rgb(107,0,0)" filter="url(#bl2)"/>
<ellipse cx="249.5" cy="315" rx="11.2" ry="22.5" fill="rgb(107,0,0)" filter="url(#bl2)"/>
<ellipse cx="249.5" cy="315" rx="8" ry="18" fill="rgb(44,89,0)" filter="url(#bl1)"/>
<path d="M208.0,325.0 C210.0,322.9 213.3,320.9 216.0,320.5 C218.7,320.1 221.3,322.5 224.0,322.5 C226.7,322.5 229.0,319.9 232.0,320.5 C235.0,321.1 239.8,322.8 242.0,326.0 C244.2,329.2 245.7,335.7 245.5,340.0 C245.3,344.3 243.2,348.7 241.0,352.0 C238.8,355.3 235.5,358.2 232.0,360.0 C228.5,361.8 223.8,362.8 220.0,362.5 C216.2,362.2 211.7,360.8 209.0,358.0 C206.3,355.2 204.8,350.2 204.0,346.0 C203.2,341.8 203.3,336.5 204.0,333.0 C204.7,329.5 206.0,327.1 208.0,325.0Z" fill="rgb(0,255,0)"/>
</g>
<g opacity="0.95" stroke="#c0c0f4" fill="none" stroke-linecap="round" stroke-linejoin="round">
<path d="M229.0,239.0 C230.1,239.0 231.2,240.1 232.2,242.2 C233.1,244.2 233.7,248.3 234.8,251.6 C235.8,254.9 237.6,258.6 238.4,262.1 C239.3,265.6 240.2,269.5 240.0,272.6 C239.9,275.8 238.5,278.9 237.4,281.0 C236.3,283.1 235.3,284.5 233.2,285.2 C231.1,285.9 226.9,285.9 224.8,285.2 C222.7,284.5 221.7,283.1 220.6,281.0 C219.5,278.9 218.1,275.8 218.0,272.6 C217.8,269.5 218.7,265.6 219.6,262.1 C220.4,258.6 222.2,254.9 223.2,251.6 C224.3,248.3 224.9,244.2 225.8,242.2 C226.8,240.1 227.9,239.0 229.0,239.0Z" fill="#c0c0f4" fill-opacity="0.8" stroke-width="1.2" filter="url(#bl1)"/>
<path d="M229.0,243.2 C229.9,243.2 231.1,247.1 231.6,249.5 C232.2,251.9 232.6,255.8 232.2,257.9 C231.7,260.0 230.1,262.1 229.0,262.1 C227.9,262.1 226.3,260.0 225.8,257.9 C225.4,255.8 225.8,251.9 226.4,249.5 C226.9,247.1 228.1,243.2 229.0,243.2Z" fill="#f0f0ff" fill-opacity="0.55" stroke="none" filter="url(#bl05)"/>
<ellipse cx="224.0" cy="267.4" rx="2.7" ry="3.8" fill="#2a2a50" fill-opacity="0.35" stroke="none" filter="url(#bl05)"/>
<ellipse cx="234.0" cy="267.4" rx="2.7" ry="3.8" fill="#2a2a50" fill-opacity="0.35" stroke="none" filter="url(#bl05)"/>
<path d="M219.6,274.7 223.8,281.0 229.0,283.1 234.2,281.0 238.4,274.7" stroke-width="1" opacity="0.8" filter="url(#bl05)"/>
<g filter="url(#bl05)">
<line x1="229.0" y1="285.2" x2="218.5" y2="386.0" stroke-width="2.3" opacity="0.8"/>
<line x1="229.0" y1="285.2" x2="218.5" y2="386.0" stroke="#f0f0ff" stroke-width="1.9" stroke-dasharray="1.3 0.9" opacity="0.7"/>
<line x1="225.1" y1="322.5" x2="218.5" y2="386.0" stroke="#efe6ec" stroke-width="5" opacity="0.85"/>
<line x1="225.1" y1="322.5" x2="218.5" y2="386.0" stroke="#fff6fa" stroke-width="3.6" stroke-dasharray="1.6 1.1" opacity="0.85"/>
<polyline points="225.8,289.4 214.3,291.5 208.0,297.8 205.9,308.3 208.0,316.7" stroke-width="2"/>
<polyline points="232.2,289.4 243.7,291.5 250.0,297.8 252.1,306.2 253.2,314.6" stroke-width="2"/>
<path d="M229.0,297.8 Q218.5,298.9 219.6,303.1" stroke-width="0.8" opacity="0.8"/>
<path d="M229.0,297.8 Q239.5,298.9 238.4,303.1" stroke-width="0.8" opacity="0.8"/>
<path d="M229.0,302.2 Q217.7,303.3 218.7,307.5" stroke-width="0.8" opacity="0.8"/>
<path d="M229.0,302.2 Q240.3,303.3 239.3,307.5" stroke-width="0.8" opacity="0.8"/>
<path d="M229.0,306.6 Q216.8,307.7 217.9,311.9" stroke-width="0.8" opacity="0.8"/>
<path d="M229.0,306.6 Q241.2,307.7 240.1,311.9" stroke-width="0.8" opacity="0.8"/>
<path d="M229.0,311.0 Q216.0,312.1 217.0,316.3" stroke-width="0.8" opacity="0.8"/>
<path d="M229.0,311.0 Q242.0,312.1 241.0,316.3" stroke-width="0.8" opacity="0.8"/>
<path d="M229.0,315.4 Q215.1,316.5 216.2,320.7" stroke-width="0.8" opacity="0.8"/>
<path d="M229.0,315.4 Q242.9,316.5 241.8,320.7" stroke-width="0.8" opacity="0.8"/>
<path d="M229.0,319.9 Q214.3,320.9 215.3,325.1" stroke-width="0.8" opacity="0.8"/>
<path d="M229.0,319.9 Q243.7,320.9 242.7,325.1" stroke-width="0.8" opacity="0.8"/>
<path d="M218.5,358.7 C220.9,358.7 224.3,362.2 225.8,365.0 C227.4,367.8 228.1,372.4 227.9,375.5 C227.8,378.6 226.4,382.1 224.8,383.9 C223.2,385.6 220.6,386.0 218.5,386.0 C216.4,386.0 213.8,385.6 212.2,383.9 C210.6,382.1 209.2,378.6 209.1,375.5 C208.9,372.4 209.6,367.8 211.2,365.0 C212.7,362.2 216.1,358.7 218.5,358.7Z" fill="#f4eef2" fill-opacity="0.55" stroke="#f4eef4" stroke-width="1.2" opacity="0.8"/>
<polyline points="212.2,381.8 205.9,386.0 200.7,392.3" stroke="#e8e8f8" stroke-width="2"/>
<polyline points="224.8,381.8 231.1,386.0 236.3,392.3" stroke="#e8e8f8" stroke-width="2"/>
</g></g>
</g>
<g clip-path="url(#cc3)">
<g filter="url(#pc)"><rect x="270.2" y="234.3" width="79.8" height="143.89999999999998" fill="#000"/>
<path d="M311.5,240.0 C313.5,240.0 315.8,242.7 317.5,246.0 C319.2,249.3 320.3,255.0 321.5,260.0 C322.7,265.0 321.0,270.7 324.5,276.0 C328.0,281.3 339.3,286.3 342.5,292.0 C345.7,297.7 343.5,302.8 343.5,310.0 C343.5,317.2 342.8,325.3 342.5,335.0 C342.2,344.7 342.0,359.8 341.5,368.0 C341.0,376.2 349.2,381.3 339.5,384.0 C329.8,386.7 293.2,386.7 283.5,384.0 C273.8,381.3 282.0,376.2 281.5,368.0 C281.0,359.8 280.8,344.7 280.5,335.0 C280.2,325.3 279.5,317.2 279.5,310.0 C279.5,302.8 277.3,297.7 280.5,292.0 C283.7,286.3 295.0,281.3 298.5,276.0 C302.0,270.7 300.3,265.0 301.5,260.0 C302.7,255.0 303.8,249.3 305.5,246.0 C307.2,242.7 309.5,240.0 311.5,240.0Z" fill="rgb(41,0,0)" filter="url(#bl2)"/>
<ellipse cx="313" cy="350" rx="30" ry="32" fill="rgb(84,0,0)" filter="url(#bl2)"/>
<path d="M293.6,317.9 C296.2,315.2 301.0,313.1 304.4,312.5 C307.8,311.9 310.8,314.3 313.9,314.3 C317.1,314.3 319.9,312.1 323.6,312.5 C327.2,312.9 332.6,313.8 335.6,316.7 C338.6,319.6 341.1,325.5 341.6,329.9 C342.1,334.3 341.0,339.9 338.6,343.1 C336.1,346.3 331.2,348.4 327.1,349.1 C323.0,349.8 318.3,347.3 313.9,347.3 C309.6,347.3 304.8,350.0 300.8,349.1 C296.8,348.2 292.1,345.3 289.9,341.9 C287.8,338.5 287.5,332.7 288.1,328.7 C288.8,324.7 290.9,320.6 293.6,317.9Z" fill="rgb(102,0,0)" filter="url(#bl2)"/>
<path d="M298.9,347.1 C301.6,344.2 307.3,342.8 311.9,342.5 C316.4,342.3 322.9,342.9 326.2,345.8 C329.4,348.7 331.6,355.5 331.4,360.1 C331.2,364.6 328.1,370.3 324.9,373.1 C321.6,375.9 316.2,377.2 311.9,377.0 C307.5,376.8 301.6,374.6 298.9,371.8 C296.2,369.0 295.6,364.2 295.6,360.1 C295.6,356.0 296.2,350.0 298.9,347.1Z" fill="rgb(102,0,0)" filter="url(#bl2)"/>
<ellipse cx="336" cy="326" rx="5.6" ry="10.0" fill="rgb(107,0,0)" filter="url(#bl2)"/>
<ellipse cx="336" cy="326" rx="4" ry="8" fill="rgb(34,69,0)" filter="url(#bl1)"/>
<path d="M297.0,320.0 C299.2,317.8 303.2,316.0 306.0,315.5 C308.8,315.0 311.3,317.0 314.0,317.0 C316.7,317.0 319.0,315.2 322.0,315.5 C325.0,315.8 329.5,316.6 332.0,319.0 C334.5,321.4 336.6,326.3 337.0,330.0 C337.4,333.7 336.5,338.3 334.5,341.0 C332.5,343.7 328.4,345.4 325.0,346.0 C321.6,346.6 317.7,344.5 314.0,344.5 C310.3,344.5 306.3,346.8 303.0,346.0 C299.7,345.2 295.8,342.8 294.0,340.0 C292.2,337.2 292.0,332.3 292.5,329.0 C293.0,325.7 294.8,322.2 297.0,320.0Z" fill="rgb(0,255,0)"/>
<path d="M302.0,350.0 C304.1,347.8 308.5,346.7 312.0,346.5 C315.5,346.3 320.5,346.8 323.0,349.0 C325.5,351.2 327.2,356.5 327.0,360.0 C326.8,363.5 324.5,367.8 322.0,370.0 C319.5,372.2 315.3,373.2 312.0,373.0 C308.7,372.8 304.1,371.2 302.0,369.0 C299.9,366.8 299.5,363.2 299.5,360.0 C299.5,356.8 299.9,352.2 302.0,350.0Z" fill="rgb(0,255,0)"/>
</g>
<g opacity="0.5" stroke="#9a88b0" fill="none" stroke-linecap="round" stroke-linejoin="round">
<path d="M311.5,240.0 C312.5,240.0 313.6,241.0 314.5,243.0 C315.4,245.0 316.0,248.8 317.0,252.0 C318.0,255.2 319.7,258.7 320.5,262.0 C321.3,265.3 322.2,269.0 322.0,272.0 C321.8,275.0 320.6,278.0 319.5,280.0 C318.4,282.0 317.5,283.3 315.5,284.0 C313.5,284.7 309.5,284.7 307.5,284.0 C305.5,283.3 304.6,282.0 303.5,280.0 C302.4,278.0 301.2,275.0 301.0,272.0 C300.8,269.0 301.7,265.3 302.5,262.0 C303.3,258.7 305.0,255.2 306.0,252.0 C307.0,248.8 307.6,245.0 308.5,243.0 C309.4,241.0 310.5,240.0 311.5,240.0Z" fill="#9a88b0" fill-opacity="0.2" stroke-width="1.2" filter="url(#bl1)"/>
<path d="M311.5,244.0 C312.3,244.0 313.5,247.7 314.0,250.0 C314.5,252.3 314.9,256.0 314.5,258.0 C314.1,260.0 312.5,262.0 311.5,262.0 C310.5,262.0 308.9,260.0 308.5,258.0 C308.1,256.0 308.5,252.3 309.0,250.0 C309.5,247.7 310.7,244.0 311.5,244.0Z" fill="#f0f0ff" fill-opacity="0.55" stroke="none" filter="url(#bl05)"/>
<ellipse cx="306.7" cy="267.0" rx="2.6" ry="3.6" fill="#2a2a50" fill-opacity="0.35" stroke="none" filter="url(#bl05)"/>
<ellipse cx="316.3" cy="267.0" rx="2.6" ry="3.6" fill="#2a2a50" fill-opacity="0.35" stroke="none" filter="url(#bl05)"/>
<path d="M302.5,274.0 306.5,280.0 311.5,282.0 316.5,280.0 320.5,274.0" stroke-width="1" opacity="0.8" filter="url(#bl05)"/>
<g filter="url(#bl05)">
<line x1="311.5" y1="284.0" x2="313.5" y2="380.0" stroke-width="2.2" opacity="0.8"/>
<line x1="311.5" y1="284.0" x2="313.5" y2="380.0" stroke="#f0f0ff" stroke-width="1.8" stroke-dasharray="1.3 0.9" opacity="0.7"/>
<line x1="312.2" y1="317.5" x2="313.5" y2="380.0" stroke="#efe6ec" stroke-width="5" opacity="0.9"/>
<line x1="312.2" y1="317.5" x2="313.5" y2="380.0" stroke="#fff6fa" stroke-width="3.6" stroke-dasharray="1.6 1.1" opacity="0.9"/>
<polyline points="308.5,288.0 297.5,290.0 291.5,296.0 289.5,306.0 291.5,314.0" stroke-width="2"/>
<polyline points="314.5,288.0 325.5,290.0 331.5,296.0 333.5,304.0 334.5,312.0" stroke-width="2"/>
<path d="M311.5,296.0 Q301.5,297.0 302.5,301.0" stroke-width="0.8" opacity="0.8"/>
<path d="M311.5,296.0 Q321.5,297.0 320.5,301.0" stroke-width="0.8" opacity="0.8"/>
<path d="M311.5,300.2 Q300.7,301.2 301.7,305.2" stroke-width="0.8" opacity="0.8"/>
<path d="M311.5,300.2 Q322.3,301.2 321.3,305.2" stroke-width="0.8" opacity="0.8"/>
<path d="M311.5,304.4 Q299.9,305.4 300.9,309.4" stroke-width="0.8" opacity="0.8"/>
<path d="M311.5,304.4 Q323.1,305.4 322.1,309.4" stroke-width="0.8" opacity="0.8"/>
<path d="M311.5,308.6 Q299.1,309.6 300.1,313.6" stroke-width="0.8" opacity="0.8"/>
<path d="M311.5,308.6 Q323.9,309.6 322.9,313.6" stroke-width="0.8" opacity="0.8"/>
<path d="M311.5,312.8 Q298.3,313.8 299.3,317.8" stroke-width="0.8" opacity="0.8"/>
<path d="M311.5,312.8 Q324.7,313.8 323.7,317.8" stroke-width="0.8" opacity="0.8"/>
<path d="M311.5,317.0 Q297.5,318.0 298.5,322.0" stroke-width="0.8" opacity="0.8"/>
<path d="M311.5,317.0 Q325.5,318.0 324.5,322.0" stroke-width="0.8" opacity="0.8"/>
<path d="M313.5,354.0 C315.8,354.0 319.0,357.3 320.5,360.0 C322.0,362.7 322.7,367.0 322.5,370.0 C322.3,373.0 321.0,376.3 319.5,378.0 C318.0,379.7 315.5,380.0 313.5,380.0 C311.5,380.0 309.0,379.7 307.5,378.0 C306.0,376.3 304.7,373.0 304.5,370.0 C304.3,367.0 305.0,362.7 306.5,360.0 C308.0,357.3 311.2,354.0 313.5,354.0Z" fill="#f4eef2" fill-opacity="0.55" stroke="#f4eef4" stroke-width="1.2" opacity="0.8"/>
<polyline points="307.5,376.0 301.5,380.0 296.5,386.0" stroke="#e8e8f8" stroke-width="2"/>
<polyline points="319.5,376.0 325.5,380.0 330.5,386.0" stroke="#e8e8f8" stroke-width="2"/>
</g></g>
</g>
<text x="141.7" y="207.9" class="lab" style="font-size:9.8px">[<tspan font-size="5.8" dy="-3.2">18</tspan><tspan dy="3.2">F]AlF-NOTA-RHAU18</tspan></text>
<rect x="41" y="215.1" width="304" height="1.7" fill="#6a6a6a"/>
<text x="71.8" y="228.6" text-anchor="middle" class="lab" style="font-size:10.1px">MC38</text>
<text x="151.3" y="228.6" text-anchor="middle" class="lab" style="font-size:10.1px">H1975</text>
<text x="230.3" y="228.6" text-anchor="middle" class="lab" style="font-size:10.1px">Huh7</text>
<text x="312.0" y="228.6" text-anchor="middle" class="lab" style="font-size:10.1px">Huh7 blocking</text>
<rect x="360.7" y="239.9" width="6" height="130.6" fill="url(#cbar)"/>
<text x="351.2" y="237.5" font-size="6.4" font-weight="normal">1.5 %ID/g</text>
<text x="352" y="377.8" font-size="6.4" font-weight="normal">0 %ID/g</text>
<polygon points="97.3,318.0 105.4,324.7 102.9,324.9 107.9,333.1 105.9,334.3 100.9,326.1 99.6,328.3" fill="#ff1010"/>
<polygon points="177.1,326.8 185.2,333.5 182.7,333.7 187.7,341.9 185.7,343.1 180.7,334.9 179.4,337.1" fill="#ff1010"/>
<polygon points="255.0,322.1 263.1,328.8 260.6,329.0 265.6,337.2 263.6,338.4 258.6,330.2 257.3,332.4" fill="#ff1010"/>
<polygon points="338.7,323.7 346.8,330.4 344.3,330.6 349.3,338.8 347.3,340.0 342.3,331.8 341.0,334.0" fill="#ff1010"/>
<text x="25.6" y="24.6" class="pl">a</text>
<text x="479.2" y="24.7" class="pl">b</text>
<text x="25.4" y="200.1" class="pl">c</text>
<text x="400.4" y="212.9" class="pl">d</text>
<text x="62.4" y="34.5" text-anchor="middle" class="lab">5 min</text>
<text x="121.7" y="34.5" text-anchor="middle" class="lab">15 min</text>
<text x="180.5" y="34.5" text-anchor="middle" class="lab">30 min</text>
<text x="240.0" y="34.5" text-anchor="middle" class="lab">60 min</text>
<text x="299.4" y="34.5" text-anchor="middle" class="lab">90 min</text>
<text x="358.4" y="34.5" text-anchor="middle" class="lab">120 min</text>
<text x="422.4" y="34.5" text-anchor="middle" class="lab">CT</text>
<line x1="517.47" y1="44.01" x2="517.47" y2="155.30" stroke="#b8b8b8" stroke-width="0.6" opacity="0.8"/>
<line x1="516.17" y1="44.01" x2="518.77" y2="44.01" stroke="#b8b8b8" stroke-width="0.6" opacity="0.8"/>
<line x1="516.17" y1="155.30" x2="518.77" y2="155.30" stroke="#b8b8b8" stroke-width="0.6" opacity="0.8"/>
<line x1="518.04" y1="68.30" x2="518.04" y2="129.50" stroke="#b8b8b8" stroke-width="0.6" opacity="0.8"/>
<line x1="516.74" y1="68.30" x2="519.34" y2="68.30" stroke="#b8b8b8" stroke-width="0.6" opacity="0.8"/>
<line x1="516.74" y1="129.50" x2="519.34" y2="129.50" stroke="#b8b8b8" stroke-width="0.6" opacity="0.8"/>
<line x1="519.17" y1="78.71" x2="519.17" y2="103.70" stroke="#b8b8b8" stroke-width="0.6" opacity="0.8"/>
<line x1="517.87" y1="78.71" x2="520.47" y2="78.71" stroke="#b8b8b8" stroke-width="0.6" opacity="0.8"/>
<line x1="517.87" y1="103.70" x2="520.47" y2="103.70" stroke="#b8b8b8" stroke-width="0.6" opacity="0.8"/>
<line x1="520.31" y1="88.08" x2="520.31" y2="121.76" stroke="#b8b8b8" stroke-width="0.6" opacity="0.8"/>
<line x1="519.01" y1="88.08" x2="521.61" y2="88.08" stroke="#b8b8b8" stroke-width="0.6" opacity="0.8"/>
<line x1="519.01" y1="121.76" x2="521.61" y2="121.76" stroke="#b8b8b8" stroke-width="0.6" opacity="0.8"/>
<line x1="521.45" y1="93.54" x2="521.45" y2="120.47" stroke="#b8b8b8" stroke-width="0.6" opacity="0.8"/>
<line x1="520.15" y1="93.54" x2="522.75" y2="93.54" stroke="#b8b8b8" stroke-width="0.6" opacity="0.8"/>
<line x1="520.15" y1="120.47" x2="522.75" y2="120.47" stroke="#b8b8b8" stroke-width="0.6" opacity="0.8"/>
<line x1="522.58" y1="101.12" x2="522.58" y2="126.92" stroke="#b8b8b8" stroke-width="0.6" opacity="0.8"/>
<line x1="521.28" y1="101.12" x2="523.88" y2="101.12" stroke="#b8b8b8" stroke-width="0.6" opacity="0.8"/>
<line x1="521.28" y1="126.92" x2="523.88" y2="126.92" stroke="#b8b8b8" stroke-width="0.6" opacity="0.8"/>
<line x1="528.27" y1="121.76" x2="528.27" y2="142.40" stroke="#b8b8b8" stroke-width="0.6" opacity="0.8"/>
<line x1="526.97" y1="121.76" x2="529.57" y2="121.76" stroke="#b8b8b8" stroke-width="0.6" opacity="0.8"/>
<line x1="526.97" y1="142.40" x2="529.57" y2="142.40" stroke="#b8b8b8" stroke-width="0.6" opacity="0.8"/>
<line x1="533.95" y1="134.66" x2="533.95" y2="150.14" stroke="#b8b8b8" stroke-width="0.6" opacity="0.8"/>
<line x1="532.65" y1="134.66" x2="535.25" y2="134.66" stroke="#b8b8b8" stroke-width="0.6" opacity="0.8"/>
<line x1="532.65" y1="150.14" x2="535.25" y2="150.14" stroke="#b8b8b8" stroke-width="0.6" opacity="0.8"/>
<line x1="539.63" y1="139.82" x2="539.63" y2="155.30" stroke="#b8b8b8" stroke-width="0.6" opacity="0.8"/>
<line x1="538.33" y1="139.82" x2="540.93" y2="139.82" stroke="#b8b8b8" stroke-width="0.6" opacity="0.8"/>
<line x1="538.33" y1="155.30" x2="540.93" y2="155.30" stroke="#b8b8b8" stroke-width="0.6" opacity="0.8"/>
<line x1="545.32" y1="142.40" x2="545.32" y2="155.30" stroke="#b8b8b8" stroke-width="0.6" opacity="0.8"/>
<line x1="544.02" y1="142.40" x2="546.62" y2="142.40" stroke="#b8b8b8" stroke-width="0.6" opacity="0.8"/>
<line x1="544.02" y1="155.30" x2="546.62" y2="155.30" stroke="#b8b8b8" stroke-width="0.6" opacity="0.8"/>
<line x1="551.00" y1="143.69" x2="551.00" y2="156.59" stroke="#b8b8b8" stroke-width="0.6" opacity="0.8"/>
<line x1="549.70" y1="143.69" x2="552.30" y2="143.69" stroke="#b8b8b8" stroke-width="0.6" opacity="0.8"/>
<line x1="549.70" y1="156.59" x2="552.30" y2="156.59" stroke="#b8b8b8" stroke-width="0.6" opacity="0.8"/>
<line x1="562.37" y1="146.27" x2="562.37" y2="159.17" stroke="#b8b8b8" stroke-width="0.6" opacity="0.8"/>
<line x1="561.07" y1="146.27" x2="563.67" y2="146.27" stroke="#b8b8b8" stroke-width="0.6" opacity="0.8"/>
<line x1="561.07" y1="159.17" x2="563.67" y2="159.17" stroke="#b8b8b8" stroke-width="0.6" opacity="0.8"/>
<line x1="573.73" y1="148.85" x2="573.73" y2="161.75" stroke="#b8b8b8" stroke-width="0.6" opacity="0.8"/>
<line x1="572.43" y1="148.85" x2="575.03" y2="148.85" stroke="#b8b8b8" stroke-width="0.6" opacity="0.8"/>
<line x1="572.43" y1="161.75" x2="575.03" y2="161.75" stroke="#b8b8b8" stroke-width="0.6" opacity="0.8"/>
<line x1="585.10" y1="149.62" x2="585.10" y2="162.52" stroke="#b8b8b8" stroke-width="0.6" opacity="0.8"/>
<line x1="583.80" y1="149.62" x2="586.40" y2="149.62" stroke="#b8b8b8" stroke-width="0.6" opacity="0.8"/>
<line x1="583.80" y1="162.52" x2="586.40" y2="162.52" stroke="#b8b8b8" stroke-width="0.6" opacity="0.8"/>
<line x1="596.47" y1="149.37" x2="596.47" y2="162.27" stroke="#b8b8b8" stroke-width="0.6" opacity="0.8"/>
<line x1="595.17" y1="149.37" x2="597.77" y2="149.37" stroke="#b8b8b8" stroke-width="0.6" opacity="0.8"/>
<line x1="595.17" y1="162.27" x2="597.77" y2="162.27" stroke="#b8b8b8" stroke-width="0.6" opacity="0.8"/>
<line x1="607.83" y1="147.30" x2="607.83" y2="162.78" stroke="#b8b8b8" stroke-width="0.6" opacity="0.8"/>
<line x1="606.53" y1="147.30" x2="609.13" y2="147.30" stroke="#b8b8b8" stroke-width="0.6" opacity="0.8"/>
<line x1="606.53" y1="162.78" x2="609.13" y2="162.78" stroke="#b8b8b8" stroke-width="0.6" opacity="0.8"/>
<line x1="619.20" y1="153.24" x2="619.20" y2="163.56" stroke="#b8b8b8" stroke-width="0.6" opacity="0.8"/>
<line x1="617.90" y1="153.24" x2="620.50" y2="153.24" stroke="#b8b8b8" stroke-width="0.6" opacity="0.8"/>
<line x1="617.90" y1="163.56" x2="620.50" y2="163.56" stroke="#b8b8b8" stroke-width="0.6" opacity="0.8"/>
<line x1="630.57" y1="154.01" x2="630.57" y2="164.33" stroke="#b8b8b8" stroke-width="0.6" opacity="0.8"/>
<line x1="629.27" y1="154.01" x2="631.87" y2="154.01" stroke="#b8b8b8" stroke-width="0.6" opacity="0.8"/>
<line x1="629.27" y1="164.33" x2="631.87" y2="164.33" stroke="#b8b8b8" stroke-width="0.6" opacity="0.8"/>
<line x1="641.93" y1="153.24" x2="641.93" y2="163.56" stroke="#b8b8b8" stroke-width="0.6" opacity="0.8"/>
<line x1="640.63" y1="153.24" x2="643.23" y2="153.24" stroke="#b8b8b8" stroke-width="0.6" opacity="0.8"/>
<line x1="640.63" y1="163.56" x2="643.23" y2="163.56" stroke="#b8b8b8" stroke-width="0.6" opacity="0.8"/>
<line x1="653.30" y1="152.20" x2="653.30" y2="165.10" stroke="#b8b8b8" stroke-width="0.6" opacity="0.8"/>
<line x1="652.00" y1="152.20" x2="654.60" y2="152.20" stroke="#b8b8b8" stroke-width="0.6" opacity="0.8"/>
<line x1="652.00" y1="165.10" x2="654.60" y2="165.10" stroke="#b8b8b8" stroke-width="0.6" opacity="0.8"/>
<line x1="517.01" y1="54.42" x2="517.01" y2="68.30" stroke="#6cb548" stroke-width="0.6" opacity="0.8"/>
<line x1="515.71" y1="54.42" x2="518.31" y2="54.42" stroke="#6cb548" stroke-width="0.6" opacity="0.8"/>
<line x1="515.71" y1="68.30" x2="518.31" y2="68.30" stroke="#6cb548" stroke-width="0.6" opacity="0.8"/>
<line x1="517.30" y1="37.07" x2="517.30" y2="57.89" stroke="#6cb548" stroke-width="0.6" opacity="0.8"/>
<line x1="516.00" y1="37.07" x2="518.60" y2="37.07" stroke="#6cb548" stroke-width="0.6" opacity="0.8"/>
<line x1="516.00" y1="57.89" x2="518.60" y2="57.89" stroke="#6cb548" stroke-width="0.6" opacity="0.8"/>
<line x1="517.58" y1="50.95" x2="517.58" y2="64.83" stroke="#6cb548" stroke-width="0.6" opacity="0.8"/>
<line x1="516.28" y1="50.95" x2="518.88" y2="50.95" stroke="#6cb548" stroke-width="0.6" opacity="0.8"/>
<line x1="516.28" y1="64.83" x2="518.88" y2="64.83" stroke="#6cb548" stroke-width="0.6" opacity="0.8"/>
<line x1="517.87" y1="57.89" x2="517.87" y2="71.77" stroke="#6cb548" stroke-width="0.6" opacity="0.8"/>
<line x1="516.57" y1="57.89" x2="519.17" y2="57.89" stroke="#6cb548" stroke-width="0.6" opacity="0.8"/>
<line x1="516.57" y1="71.77" x2="519.17" y2="71.77" stroke="#6cb548" stroke-width="0.6" opacity="0.8"/>
<line x1="518.15" y1="63.09" x2="518.15" y2="73.50" stroke="#6cb548" stroke-width="0.6" opacity="0.8"/>
<line x1="516.85" y1="63.09" x2="519.45" y2="63.09" stroke="#6cb548" stroke-width="0.6" opacity="0.8"/>
<line x1="516.85" y1="73.50" x2="519.45" y2="73.50" stroke="#6cb548" stroke-width="0.6" opacity="0.8"/>
<line x1="518.43" y1="68.30" x2="518.43" y2="78.71" stroke="#6cb548" stroke-width="0.6" opacity="0.8"/>
<line x1="517.13" y1="68.30" x2="519.73" y2="68.30" stroke="#6cb548" stroke-width="0.6" opacity="0.8"/>
<line x1="517.13" y1="78.71" x2="519.73" y2="78.71" stroke="#6cb548" stroke-width="0.6" opacity="0.8"/>
<line x1="518.72" y1="75.24" x2="518.72" y2="82.18" stroke="#6cb548" stroke-width="0.6" opacity="0.8"/>
<line x1="517.42" y1="75.24" x2="520.02" y2="75.24" stroke="#6cb548" stroke-width="0.6" opacity="0.8"/>
<line x1="517.42" y1="82.18" x2="520.02" y2="82.18" stroke="#6cb548" stroke-width="0.6" opacity="0.8"/>
<line x1="519.06" y1="80.45" x2="519.06" y2="87.39" stroke="#6cb548" stroke-width="0.6" opacity="0.8"/>
<line x1="517.76" y1="80.45" x2="520.36" y2="80.45" stroke="#6cb548" stroke-width="0.6" opacity="0.8"/>
<line x1="517.76" y1="87.39" x2="520.36" y2="87.39" stroke="#6cb548" stroke-width="0.6" opacity="0.8"/>
<line x1="520.54" y1="86.00" x2="520.54" y2="95.96" stroke="#6cb548" stroke-width="0.6" opacity="0.8"/>
<line x1="519.24" y1="86.00" x2="521.84" y2="86.00" stroke="#6cb548" stroke-width="0.6" opacity="0.8"/>
<line x1="519.24" y1="95.96" x2="521.84" y2="95.96" stroke="#6cb548" stroke-width="0.6" opacity="0.8"/>
<line x1="521.45" y1="93.04" x2="521.45" y2="114.02" stroke="#6cb548" stroke-width="0.6" opacity="0.8"/>
<line x1="520.15" y1="93.04" x2="522.75" y2="93.04" stroke="#6cb548" stroke-width="0.6" opacity="0.8"/>
<line x1="520.15" y1="114.02" x2="522.75" y2="114.02" stroke="#6cb548" stroke-width="0.6" opacity="0.8"/>
<line x1="522.58" y1="99.31" x2="522.58" y2="119.95" stroke="#6cb548" stroke-width="0.6" opacity="0.8"/>
<line x1="521.28" y1="99.31" x2="523.88" y2="99.31" stroke="#6cb548" stroke-width="0.6" opacity="0.8"/>
<line x1="521.28" y1="119.95" x2="523.88" y2="119.95" stroke="#6cb548" stroke-width="0.6" opacity="0.8"/>
<line x1="528.27" y1="113.50" x2="528.27" y2="128.98" stroke="#6cb548" stroke-width="0.6" opacity="0.8"/>
<line x1="526.97" y1="113.50" x2="529.57" y2="113.50" stroke="#6cb548" stroke-width="0.6" opacity="0.8"/>
<line x1="526.97" y1="128.98" x2="529.57" y2="128.98" stroke="#6cb548" stroke-width="0.6" opacity="0.8"/>
<line x1="533.95" y1="128.21" x2="533.95" y2="143.69" stroke="#6cb548" stroke-width="0.6" opacity="0.8"/>
<line x1="532.65" y1="128.21" x2="535.25" y2="128.21" stroke="#6cb548" stroke-width="0.6" opacity="0.8"/>
<line x1="532.65" y1="143.69" x2="535.25" y2="143.69" stroke="#6cb548" stroke-width="0.6" opacity="0.8"/>
<line x1="539.63" y1="144.98" x2="539.63" y2="157.88" stroke="#6cb548" stroke-width="0.6" opacity="0.8"/>
<line x1="538.33" y1="144.98" x2="540.93" y2="144.98" stroke="#6cb548" stroke-width="0.6" opacity="0.8"/>
<line x1="538.33" y1="157.88" x2="540.93" y2="157.88" stroke="#6cb548" stroke-width="0.6" opacity="0.8"/>
<line x1="545.32" y1="152.72" x2="545.32" y2="163.04" stroke="#6cb548" stroke-width="0.6" opacity="0.8"/>
<line x1="544.02" y1="152.72" x2="546.62" y2="152.72" stroke="#6cb548" stroke-width="0.6" opacity="0.8"/>
<line x1="544.02" y1="163.04" x2="546.62" y2="163.04" stroke="#6cb548" stroke-width="0.6" opacity="0.8"/>
<line x1="551.00" y1="158.14" x2="551.00" y2="165.88" stroke="#6cb548" stroke-width="0.6" opacity="0.8"/>
<line x1="549.70" y1="158.14" x2="552.30" y2="158.14" stroke="#6cb548" stroke-width="0.6" opacity="0.8"/>
<line x1="549.70" y1="165.88" x2="552.30" y2="165.88" stroke="#6cb548" stroke-width="0.6" opacity="0.8"/>
<line x1="562.37" y1="164.33" x2="562.37" y2="169.49" stroke="#6cb548" stroke-width="0.6" opacity="0.8"/>
<line x1="561.07" y1="164.33" x2="563.67" y2="164.33" stroke="#6cb548" stroke-width="0.6" opacity="0.8"/>
<line x1="561.07" y1="169.49" x2="563.67" y2="169.49" stroke="#6cb548" stroke-width="0.6" opacity="0.8"/>
<line x1="573.73" y1="168.20" x2="573.73" y2="172.33" stroke="#6cb548" stroke-width="0.6" opacity="0.8"/>
<line x1="572.43" y1="168.20" x2="575.03" y2="168.20" stroke="#6cb548" stroke-width="0.6" opacity="0.8"/>
<line x1="572.43" y1="172.33" x2="575.03" y2="172.33" stroke="#6cb548" stroke-width="0.6" opacity="0.8"/>
<line x1="585.10" y1="171.55" x2="585.10" y2="174.65" stroke="#6cb548" stroke-width="0.6" opacity="0.8"/>
<line x1="583.80" y1="171.55" x2="586.40" y2="171.55" stroke="#6cb548" stroke-width="0.6" opacity="0.8"/>
<line x1="583.80" y1="174.65" x2="586.40" y2="174.65" stroke="#6cb548" stroke-width="0.6" opacity="0.8"/>
<line x1="596.47" y1="172.84" x2="596.47" y2="175.42" stroke="#6cb548" stroke-width="0.6" opacity="0.8"/>
<line x1="595.17" y1="172.84" x2="597.77" y2="172.84" stroke="#6cb548" stroke-width="0.6" opacity="0.8"/>
<line x1="595.17" y1="175.42" x2="597.77" y2="175.42" stroke="#6cb548" stroke-width="0.6" opacity="0.8"/>
<line x1="607.83" y1="174.39" x2="607.83" y2="176.97" stroke="#6cb548" stroke-width="0.6" opacity="0.8"/>
<line x1="606.53" y1="174.39" x2="609.13" y2="174.39" stroke="#6cb548" stroke-width="0.6" opacity="0.8"/>
<line x1="606.53" y1="176.97" x2="609.13" y2="176.97" stroke="#6cb548" stroke-width="0.6" opacity="0.8"/>
<line x1="619.20" y1="175.42" x2="619.20" y2="177.49" stroke="#6cb548" stroke-width="0.6" opacity="0.8"/>
<line x1="617.90" y1="175.42" x2="620.50" y2="175.42" stroke="#6cb548" stroke-width="0.6" opacity="0.8"/>
<line x1="617.90" y1="177.49" x2="620.50" y2="177.49" stroke="#6cb548" stroke-width="0.6" opacity="0.8"/>
<line x1="630.57" y1="175.94" x2="630.57" y2="178.00" stroke="#6cb548" stroke-width="0.6" opacity="0.8"/>
<line x1="629.27" y1="175.94" x2="631.87" y2="175.94" stroke="#6cb548" stroke-width="0.6" opacity="0.8"/>
<line x1="629.27" y1="178.00" x2="631.87" y2="178.00" stroke="#6cb548" stroke-width="0.6" opacity="0.8"/>
<line x1="641.93" y1="176.20" x2="641.93" y2="178.26" stroke="#6cb548" stroke-width="0.6" opacity="0.8"/>
<line x1="640.63" y1="176.20" x2="643.23" y2="176.20" stroke="#6cb548" stroke-width="0.6" opacity="0.8"/>
<line x1="640.63" y1="178.26" x2="643.23" y2="178.26" stroke="#6cb548" stroke-width="0.6" opacity="0.8"/>
<line x1="653.30" y1="176.71" x2="653.30" y2="178.26" stroke="#6cb548" stroke-width="0.6" opacity="0.8"/>
<line x1="652.00" y1="176.71" x2="654.60" y2="176.71" stroke="#6cb548" stroke-width="0.6" opacity="0.8"/>
<line x1="652.00" y1="178.26" x2="654.60" y2="178.26" stroke="#6cb548" stroke-width="0.6" opacity="0.8"/>
<line x1="517.47" y1="168.20" x2="517.47" y2="181.10" stroke="#ff8494" stroke-width="0.6" opacity="0.8"/>
<line x1="516.17" y1="168.20" x2="518.77" y2="168.20" stroke="#ff8494" stroke-width="0.6" opacity="0.8"/>
<line x1="516.17" y1="181.10" x2="518.77" y2="181.10" stroke="#ff8494" stroke-width="0.6" opacity="0.8"/>
<line x1="518.04" y1="147.56" x2="518.04" y2="173.36" stroke="#ff8494" stroke-width="0.6" opacity="0.8"/>
<line x1="516.74" y1="147.56" x2="519.34" y2="147.56" stroke="#ff8494" stroke-width="0.6" opacity="0.8"/>
<line x1="516.74" y1="173.36" x2="519.34" y2="173.36" stroke="#ff8494" stroke-width="0.6" opacity="0.8"/>
<line x1="518.61" y1="134.66" x2="518.61" y2="160.46" stroke="#ff8494" stroke-width="0.6" opacity="0.8"/>
<line x1="517.31" y1="134.66" x2="519.90" y2="134.66" stroke="#ff8494" stroke-width="0.6" opacity="0.8"/>
<line x1="517.31" y1="160.46" x2="519.90" y2="160.46" stroke="#ff8494" stroke-width="0.6" opacity="0.8"/>
<line x1="519.17" y1="129.50" x2="519.17" y2="150.14" stroke="#ff8494" stroke-width="0.6" opacity="0.8"/>
<line x1="517.87" y1="129.50" x2="520.47" y2="129.50" stroke="#ff8494" stroke-width="0.6" opacity="0.8"/>
<line x1="517.87" y1="150.14" x2="520.47" y2="150.14" stroke="#ff8494" stroke-width="0.6" opacity="0.8"/>
<line x1="520.31" y1="126.92" x2="520.31" y2="147.56" stroke="#ff8494" stroke-width="0.6" opacity="0.8"/>
<line x1="519.01" y1="126.92" x2="521.61" y2="126.92" stroke="#ff8494" stroke-width="0.6" opacity="0.8"/>
<line x1="519.01" y1="147.56" x2="521.61" y2="147.56" stroke="#ff8494" stroke-width="0.6" opacity="0.8"/>
<line x1="521.45" y1="133.37" x2="521.45" y2="151.43" stroke="#ff8494" stroke-width="0.6" opacity="0.8"/>
<line x1="520.15" y1="133.37" x2="522.75" y2="133.37" stroke="#ff8494" stroke-width="0.6" opacity="0.8"/>
<line x1="520.15" y1="151.43" x2="522.75" y2="151.43" stroke="#ff8494" stroke-width="0.6" opacity="0.8"/>
<line x1="522.58" y1="137.24" x2="522.58" y2="152.72" stroke="#ff8494" stroke-width="0.6" opacity="0.8"/>
<line x1="521.28" y1="137.24" x2="523.88" y2="137.24" stroke="#ff8494" stroke-width="0.6" opacity="0.8"/>
<line x1="521.28" y1="152.72" x2="523.88" y2="152.72" stroke="#ff8494" stroke-width="0.6" opacity="0.8"/>
<line x1="528.27" y1="144.98" x2="528.27" y2="160.46" stroke="#ff8494" stroke-width="0.6" opacity="0.8"/>
<line x1="526.97" y1="144.98" x2="529.57" y2="144.98" stroke="#ff8494" stroke-width="0.6" opacity="0.8"/>
<line x1="526.97" y1="160.46" x2="529.57" y2="160.46" stroke="#ff8494" stroke-width="0.6" opacity="0.8"/>
<line x1="533.95" y1="152.72" x2="533.95" y2="165.62" stroke="#ff8494" stroke-width="0.6" opacity="0.8"/>
<line x1="532.65" y1="152.72" x2="535.25" y2="152.72" stroke="#ff8494" stroke-width="0.6" opacity="0.8"/>
<line x1="532.65" y1="165.62" x2="535.25" y2="165.62" stroke="#ff8494" stroke-width="0.6" opacity="0.8"/>
<line x1="539.63" y1="159.94" x2="539.63" y2="170.26" stroke="#ff8494" stroke-width="0.6" opacity="0.8"/>
<line x1="538.33" y1="159.94" x2="540.93" y2="159.94" stroke="#ff8494" stroke-width="0.6" opacity="0.8"/>
<line x1="538.33" y1="170.26" x2="540.93" y2="170.26" stroke="#ff8494" stroke-width="0.6" opacity="0.8"/>
<line x1="545.32" y1="162.52" x2="545.32" y2="172.84" stroke="#ff8494" stroke-width="0.6" opacity="0.8"/>
<line x1="544.02" y1="162.52" x2="546.62" y2="162.52" stroke="#ff8494" stroke-width="0.6" opacity="0.8"/>
<line x1="544.02" y1="172.84" x2="546.62" y2="172.84" stroke="#ff8494" stroke-width="0.6" opacity="0.8"/>
<line x1="551.00" y1="165.36" x2="551.00" y2="173.10" stroke="#ff8494" stroke-width="0.6" opacity="0.8"/>
<line x1="549.70" y1="165.36" x2="552.30" y2="165.36" stroke="#ff8494" stroke-width="0.6" opacity="0.8"/>
<line x1="549.70" y1="173.10" x2="552.30" y2="173.10" stroke="#ff8494" stroke-width="0.6" opacity="0.8"/>
<line x1="562.37" y1="170.26" x2="562.37" y2="175.42" stroke="#ff8494" stroke-width="0.6" opacity="0.8"/>
<line x1="561.07" y1="170.26" x2="563.67" y2="170.26" stroke="#ff8494" stroke-width="0.6" opacity="0.8"/>
<line x1="561.07" y1="175.42" x2="563.67" y2="175.42" stroke="#ff8494" stroke-width="0.6" opacity="0.8"/>
<line x1="573.73" y1="173.36" x2="573.73" y2="177.49" stroke="#ff8494" stroke-width="0.6" opacity="0.8"/>
<line x1="572.43" y1="173.36" x2="575.03" y2="173.36" stroke="#ff8494" stroke-width="0.6" opacity="0.8"/>
<line x1="572.43" y1="177.49" x2="575.03" y2="177.49" stroke="#ff8494" stroke-width="0.6" opacity="0.8"/>
<line x1="585.10" y1="174.39" x2="585.10" y2="177.49" stroke="#ff8494" stroke-width="0.6" opacity="0.8"/>
<line x1="583.80" y1="174.39" x2="586.40" y2="174.39" stroke="#ff8494" stroke-width="0.6" opacity="0.8"/>
<line x1="583.80" y1="177.49" x2="586.40" y2="177.49" stroke="#ff8494" stroke-width="0.6" opacity="0.8"/>
<line x1="596.47" y1="175.17" x2="596.47" y2="177.75" stroke="#ff8494" stroke-width="0.6" opacity="0.8"/>
<line x1="595.17" y1="175.17" x2="597.77" y2="175.17" stroke="#ff8494" stroke-width="0.6" opacity="0.8"/>
<line x1="595.17" y1="177.75" x2="597.77" y2="177.75" stroke="#ff8494" stroke-width="0.6" opacity="0.8"/>
<line x1="607.83" y1="175.94" x2="607.83" y2="178.52" stroke="#ff8494" stroke-width="0.6" opacity="0.8"/>
<line x1="606.53" y1="175.94" x2="609.13" y2="175.94" stroke="#ff8494" stroke-width="0.6" opacity="0.8"/>
<line x1="606.53" y1="178.52" x2="609.13" y2="178.52" stroke="#ff8494" stroke-width="0.6" opacity="0.8"/>
<line x1="619.20" y1="176.46" x2="619.20" y2="178.52" stroke="#ff8494" stroke-width="0.6" opacity="0.8"/>
<line x1="617.90" y1="176.46" x2="620.50" y2="176.46" stroke="#ff8494" stroke-width="0.6" opacity="0.8"/>
<line x1="617.90" y1="178.52" x2="620.50" y2="178.52" stroke="#ff8494" stroke-width="0.6" opacity="0.8"/>
<line x1="630.57" y1="176.71" x2="630.57" y2="178.78" stroke="#ff8494" stroke-width="0.6" opacity="0.8"/>
<line x1="629.27" y1="176.71" x2="631.87" y2="176.71" stroke="#ff8494" stroke-width="0.6" opacity="0.8"/>
<line x1="629.27" y1="178.78" x2="631.87" y2="178.78" stroke="#ff8494" stroke-width="0.6" opacity="0.8"/>
<line x1="641.93" y1="176.97" x2="641.93" y2="179.04" stroke="#ff8494" stroke-width="0.6" opacity="0.8"/>
<line x1="640.63" y1="176.97" x2="643.23" y2="176.97" stroke="#ff8494" stroke-width="0.6" opacity="0.8"/>
<line x1="640.63" y1="179.04" x2="643.23" y2="179.04" stroke="#ff8494" stroke-width="0.6" opacity="0.8"/>
<line x1="653.30" y1="177.49" x2="653.30" y2="179.04" stroke="#ff8494" stroke-width="0.6" opacity="0.8"/>
<line x1="652.00" y1="177.49" x2="654.60" y2="177.49" stroke="#ff8494" stroke-width="0.6" opacity="0.8"/>
<line x1="652.00" y1="179.04" x2="654.60" y2="179.04" stroke="#ff8494" stroke-width="0.6" opacity="0.8"/>
<line x1="517.47" y1="88.08" x2="517.47" y2="111.44" stroke="#8a64f4" stroke-width="0.6" opacity="0.8"/>
<line x1="516.17" y1="88.08" x2="518.77" y2="88.08" stroke="#8a64f4" stroke-width="0.6" opacity="0.8"/>
<line x1="516.17" y1="111.44" x2="518.77" y2="111.44" stroke="#8a64f4" stroke-width="0.6" opacity="0.8"/>
<line x1="518.04" y1="98.54" x2="518.04" y2="129.50" stroke="#8a64f4" stroke-width="0.6" opacity="0.8"/>
<line x1="516.74" y1="98.54" x2="519.34" y2="98.54" stroke="#8a64f4" stroke-width="0.6" opacity="0.8"/>
<line x1="516.74" y1="129.50" x2="519.34" y2="129.50" stroke="#8a64f4" stroke-width="0.6" opacity="0.8"/>
<line x1="518.61" y1="116.60" x2="518.61" y2="142.40" stroke="#8a64f4" stroke-width="0.6" opacity="0.8"/>
<line x1="517.31" y1="116.60" x2="519.90" y2="116.60" stroke="#8a64f4" stroke-width="0.6" opacity="0.8"/>
<line x1="517.31" y1="142.40" x2="519.90" y2="142.40" stroke="#8a64f4" stroke-width="0.6" opacity="0.8"/>
<line x1="519.17" y1="129.50" x2="519.17" y2="150.14" stroke="#8a64f4" stroke-width="0.6" opacity="0.8"/>
<line x1="517.87" y1="129.50" x2="520.47" y2="129.50" stroke="#8a64f4" stroke-width="0.6" opacity="0.8"/>
<line x1="517.87" y1="150.14" x2="520.47" y2="150.14" stroke="#8a64f4" stroke-width="0.6" opacity="0.8"/>
<line x1="520.31" y1="137.24" x2="520.31" y2="152.72" stroke="#8a64f4" stroke-width="0.6" opacity="0.8"/>
<line x1="519.01" y1="137.24" x2="521.61" y2="137.24" stroke="#8a64f4" stroke-width="0.6" opacity="0.8"/>
<line x1="519.01" y1="152.72" x2="521.61" y2="152.72" stroke="#8a64f4" stroke-width="0.6" opacity="0.8"/>
<line x1="521.45" y1="141.88" x2="521.45" y2="157.36" stroke="#8a64f4" stroke-width="0.6" opacity="0.8"/>
<line x1="520.15" y1="141.88" x2="522.75" y2="141.88" stroke="#8a64f4" stroke-width="0.6" opacity="0.8"/>
<line x1="520.15" y1="157.36" x2="522.75" y2="157.36" stroke="#8a64f4" stroke-width="0.6" opacity="0.8"/>
<line x1="522.58" y1="144.98" x2="522.58" y2="157.88" stroke="#8a64f4" stroke-width="0.6" opacity="0.8"/>
<line x1="521.28" y1="144.98" x2="523.88" y2="144.98" stroke="#8a64f4" stroke-width="0.6" opacity="0.8"/>
<line x1="521.28" y1="157.88" x2="523.88" y2="157.88" stroke="#8a64f4" stroke-width="0.6" opacity="0.8"/>
<line x1="528.27" y1="153.24" x2="528.27" y2="163.56" stroke="#8a64f4" stroke-width="0.6" opacity="0.8"/>
<line x1="526.97" y1="153.24" x2="529.57" y2="153.24" stroke="#8a64f4" stroke-width="0.6" opacity="0.8"/>
<line x1="526.97" y1="163.56" x2="529.57" y2="163.56" stroke="#8a64f4" stroke-width="0.6" opacity="0.8"/>
<line x1="533.95" y1="158.65" x2="533.95" y2="166.39" stroke="#8a64f4" stroke-width="0.6" opacity="0.8"/>
<line x1="532.65" y1="158.65" x2="535.25" y2="158.65" stroke="#8a64f4" stroke-width="0.6" opacity="0.8"/>
<line x1="532.65" y1="166.39" x2="535.25" y2="166.39" stroke="#8a64f4" stroke-width="0.6" opacity="0.8"/>
<line x1="539.63" y1="164.59" x2="539.63" y2="170.78" stroke="#8a64f4" stroke-width="0.6" opacity="0.8"/>
<line x1="538.33" y1="164.59" x2="540.93" y2="164.59" stroke="#8a64f4" stroke-width="0.6" opacity="0.8"/>
<line x1="538.33" y1="170.78" x2="540.93" y2="170.78" stroke="#8a64f4" stroke-width="0.6" opacity="0.8"/>
<line x1="545.32" y1="167.17" x2="545.32" y2="172.33" stroke="#8a64f4" stroke-width="0.6" opacity="0.8"/>
<line x1="544.02" y1="167.17" x2="546.62" y2="167.17" stroke="#8a64f4" stroke-width="0.6" opacity="0.8"/>
<line x1="544.02" y1="172.33" x2="546.62" y2="172.33" stroke="#8a64f4" stroke-width="0.6" opacity="0.8"/>
<line x1="551.00" y1="168.20" x2="551.00" y2="173.36" stroke="#8a64f4" stroke-width="0.6" opacity="0.8"/>
<line x1="549.70" y1="168.20" x2="552.30" y2="168.20" stroke="#8a64f4" stroke-width="0.6" opacity="0.8"/>
<line x1="549.70" y1="173.36" x2="552.30" y2="173.36" stroke="#8a64f4" stroke-width="0.6" opacity="0.8"/>
<line x1="562.37" y1="170.52" x2="562.37" y2="174.65" stroke="#8a64f4" stroke-width="0.6" opacity="0.8"/>
<line x1="561.07" y1="170.52" x2="563.67" y2="170.52" stroke="#8a64f4" stroke-width="0.6" opacity="0.8"/>
<line x1="561.07" y1="174.65" x2="563.67" y2="174.65" stroke="#8a64f4" stroke-width="0.6" opacity="0.8"/>
<line x1="573.73" y1="173.88" x2="573.73" y2="176.97" stroke="#8a64f4" stroke-width="0.6" opacity="0.8"/>
<line x1="572.43" y1="173.88" x2="575.03" y2="173.88" stroke="#8a64f4" stroke-width="0.6" opacity="0.8"/>
<line x1="572.43" y1="176.97" x2="575.03" y2="176.97" stroke="#8a64f4" stroke-width="0.6" opacity="0.8"/>
<line x1="585.10" y1="174.65" x2="585.10" y2="177.23" stroke="#8a64f4" stroke-width="0.6" opacity="0.8"/>
<line x1="583.80" y1="174.65" x2="586.40" y2="174.65" stroke="#8a64f4" stroke-width="0.6" opacity="0.8"/>
<line x1="583.80" y1="177.23" x2="586.40" y2="177.23" stroke="#8a64f4" stroke-width="0.6" opacity="0.8"/>
<line x1="596.47" y1="175.42" x2="596.47" y2="178.00" stroke="#8a64f4" stroke-width="0.6" opacity="0.8"/>
<line x1="595.17" y1="175.42" x2="597.77" y2="175.42" stroke="#8a64f4" stroke-width="0.6" opacity="0.8"/>
<line x1="595.17" y1="178.00" x2="597.77" y2="178.00" stroke="#8a64f4" stroke-width="0.6" opacity="0.8"/>
<line x1="607.83" y1="176.46" x2="607.83" y2="178.52" stroke="#8a64f4" stroke-width="0.6" opacity="0.8"/>
<line x1="606.53" y1="176.46" x2="609.13" y2="176.46" stroke="#8a64f4" stroke-width="0.6" opacity="0.8"/>
<line x1="606.53" y1="178.52" x2="609.13" y2="178.52" stroke="#8a64f4" stroke-width="0.6" opacity="0.8"/>
<line x1="619.20" y1="176.71" x2="619.20" y2="178.78" stroke="#8a64f4" stroke-width="0.6" opacity="0.8"/>
<line x1="617.90" y1="176.71" x2="620.50" y2="176.71" stroke="#8a64f4" stroke-width="0.6" opacity="0.8"/>
<line x1="617.90" y1="178.78" x2="620.50" y2="178.78" stroke="#8a64f4" stroke-width="0.6" opacity="0.8"/>
<line x1="630.57" y1="176.97" x2="630.57" y2="179.04" stroke="#8a64f4" stroke-width="0.6" opacity="0.8"/>
<line x1="629.27" y1="176.97" x2="631.87" y2="176.97" stroke="#8a64f4" stroke-width="0.6" opacity="0.8"/>
<line x1="629.27" y1="179.04" x2="631.87" y2="179.04" stroke="#8a64f4" stroke-width="0.6" opacity="0.8"/>
<line x1="641.93" y1="177.49" x2="641.93" y2="179.04" stroke="#8a64f4" stroke-width="0.6" opacity="0.8"/>
<line x1="640.63" y1="177.49" x2="643.23" y2="177.49" stroke="#8a64f4" stroke-width="0.6" opacity="0.8"/>
<line x1="640.63" y1="179.04" x2="643.23" y2="179.04" stroke="#8a64f4" stroke-width="0.6" opacity="0.8"/>
<line x1="653.30" y1="177.75" x2="653.30" y2="179.29" stroke="#8a64f4" stroke-width="0.6" opacity="0.8"/>
<line x1="652.00" y1="177.75" x2="654.60" y2="177.75" stroke="#8a64f4" stroke-width="0.6" opacity="0.8"/>
<line x1="652.00" y1="179.29" x2="654.60" y2="179.29" stroke="#8a64f4" stroke-width="0.6" opacity="0.8"/>
<line x1="516.90" y1="177.23" x2="516.90" y2="179.81" stroke="#c81818" stroke-width="0.6" opacity="0.8"/>
<line x1="515.60" y1="177.23" x2="518.20" y2="177.23" stroke="#c81818" stroke-width="0.6" opacity="0.8"/>
<line x1="515.60" y1="179.81" x2="518.20" y2="179.81" stroke="#c81818" stroke-width="0.6" opacity="0.8"/>
<line x1="517.47" y1="163.04" x2="517.47" y2="173.36" stroke="#c81818" stroke-width="0.6" opacity="0.8"/>
<line x1="516.17" y1="163.04" x2="518.77" y2="163.04" stroke="#c81818" stroke-width="0.6" opacity="0.8"/>
<line x1="516.17" y1="173.36" x2="518.77" y2="173.36" stroke="#c81818" stroke-width="0.6" opacity="0.8"/>
<line x1="518.04" y1="144.98" x2="518.04" y2="160.46" stroke="#c81818" stroke-width="0.6" opacity="0.8"/>
<line x1="516.74" y1="144.98" x2="519.34" y2="144.98" stroke="#c81818" stroke-width="0.6" opacity="0.8"/>
<line x1="516.74" y1="160.46" x2="519.34" y2="160.46" stroke="#c81818" stroke-width="0.6" opacity="0.8"/>
<line x1="518.61" y1="134.66" x2="518.61" y2="150.14" stroke="#c81818" stroke-width="0.6" opacity="0.8"/>
<line x1="517.31" y1="134.66" x2="519.90" y2="134.66" stroke="#c81818" stroke-width="0.6" opacity="0.8"/>
<line x1="517.31" y1="150.14" x2="519.90" y2="150.14" stroke="#c81818" stroke-width="0.6" opacity="0.8"/>
<line x1="519.17" y1="134.14" x2="519.17" y2="144.46" stroke="#c81818" stroke-width="0.6" opacity="0.8"/>
<line x1="517.87" y1="134.14" x2="520.47" y2="134.14" stroke="#c81818" stroke-width="0.6" opacity="0.8"/>
<line x1="517.87" y1="144.46" x2="520.47" y2="144.46" stroke="#c81818" stroke-width="0.6" opacity="0.8"/>
<line x1="519.74" y1="134.40" x2="519.74" y2="142.14" stroke="#c81818" stroke-width="0.6" opacity="0.8"/>
<line x1="518.44" y1="134.40" x2="521.04" y2="134.40" stroke="#c81818" stroke-width="0.6" opacity="0.8"/>
<line x1="518.44" y1="142.14" x2="521.04" y2="142.14" stroke="#c81818" stroke-width="0.6" opacity="0.8"/>
<line x1="520.31" y1="133.37" x2="520.31" y2="141.11" stroke="#c81818" stroke-width="0.6" opacity="0.8"/>
<line x1="519.01" y1="133.37" x2="521.61" y2="133.37" stroke="#c81818" stroke-width="0.6" opacity="0.8"/>
<line x1="519.01" y1="141.11" x2="521.61" y2="141.11" stroke="#c81818" stroke-width="0.6" opacity="0.8"/>
<line x1="521.45" y1="134.66" x2="521.45" y2="140.85" stroke="#c81818" stroke-width="0.6" opacity="0.8"/>
<line x1="520.15" y1="134.66" x2="522.75" y2="134.66" stroke="#c81818" stroke-width="0.6" opacity="0.8"/>
<line x1="520.15" y1="140.85" x2="522.75" y2="140.85" stroke="#c81818" stroke-width="0.6" opacity="0.8"/>
<line x1="522.58" y1="135.69" x2="522.58" y2="140.85" stroke="#c81818" stroke-width="0.6" opacity="0.8"/>
<line x1="521.28" y1="135.69" x2="523.88" y2="135.69" stroke="#c81818" stroke-width="0.6" opacity="0.8"/>
<line x1="521.28" y1="140.85" x2="523.88" y2="140.85" stroke="#c81818" stroke-width="0.6" opacity="0.8"/>
<line x1="528.27" y1="138.27" x2="528.27" y2="142.40" stroke="#c81818" stroke-width="0.6" opacity="0.8"/>
<line x1="526.97" y1="138.27" x2="529.57" y2="138.27" stroke="#c81818" stroke-width="0.6" opacity="0.8"/>
<line x1="526.97" y1="142.40" x2="529.57" y2="142.40" stroke="#c81818" stroke-width="0.6" opacity="0.8"/>
<line x1="533.95" y1="141.88" x2="533.95" y2="147.04" stroke="#c81818" stroke-width="0.6" opacity="0.8"/>
<line x1="532.65" y1="141.88" x2="535.25" y2="141.88" stroke="#c81818" stroke-width="0.6" opacity="0.8"/>
<line x1="532.65" y1="147.04" x2="535.25" y2="147.04" stroke="#c81818" stroke-width="0.6" opacity="0.8"/>
<line x1="539.63" y1="145.75" x2="539.63" y2="150.91" stroke="#c81818" stroke-width="0.6" opacity="0.8"/>
<line x1="538.33" y1="145.75" x2="540.93" y2="145.75" stroke="#c81818" stroke-width="0.6" opacity="0.8"/>
<line x1="538.33" y1="150.91" x2="540.93" y2="150.91" stroke="#c81818" stroke-width="0.6" opacity="0.8"/>
<line x1="545.32" y1="149.11" x2="545.32" y2="154.27" stroke="#c81818" stroke-width="0.6" opacity="0.8"/>
<line x1="544.02" y1="149.11" x2="546.62" y2="149.11" stroke="#c81818" stroke-width="0.6" opacity="0.8"/>
<line x1="544.02" y1="154.27" x2="546.62" y2="154.27" stroke="#c81818" stroke-width="0.6" opacity="0.8"/>
<line x1="551.00" y1="152.72" x2="551.00" y2="156.85" stroke="#c81818" stroke-width="0.6" opacity="0.8"/>
<line x1="549.70" y1="152.72" x2="552.30" y2="152.72" stroke="#c81818" stroke-width="0.6" opacity="0.8"/>
<line x1="549.70" y1="156.85" x2="552.30" y2="156.85" stroke="#c81818" stroke-width="0.6" opacity="0.8"/>
<line x1="562.37" y1="157.36" x2="562.37" y2="160.46" stroke="#c81818" stroke-width="0.6" opacity="0.8"/>
<line x1="561.07" y1="157.36" x2="563.67" y2="157.36" stroke="#c81818" stroke-width="0.6" opacity="0.8"/>
<line x1="561.07" y1="160.46" x2="563.67" y2="160.46" stroke="#c81818" stroke-width="0.6" opacity="0.8"/>
<line x1="573.73" y1="161.49" x2="573.73" y2="164.07" stroke="#c81818" stroke-width="0.6" opacity="0.8"/>
<line x1="572.43" y1="161.49" x2="575.03" y2="161.49" stroke="#c81818" stroke-width="0.6" opacity="0.8"/>
<line x1="572.43" y1="164.07" x2="575.03" y2="164.07" stroke="#c81818" stroke-width="0.6" opacity="0.8"/>
<line x1="585.10" y1="164.59" x2="585.10" y2="166.65" stroke="#c81818" stroke-width="0.6" opacity="0.8"/>
<line x1="583.80" y1="164.59" x2="586.40" y2="164.59" stroke="#c81818" stroke-width="0.6" opacity="0.8"/>
<line x1="583.80" y1="166.65" x2="586.40" y2="166.65" stroke="#c81818" stroke-width="0.6" opacity="0.8"/>
<line x1="596.47" y1="167.68" x2="596.47" y2="169.75" stroke="#c81818" stroke-width="0.6" opacity="0.8"/>
<line x1="595.17" y1="167.68" x2="597.77" y2="167.68" stroke="#c81818" stroke-width="0.6" opacity="0.8"/>
<line x1="595.17" y1="169.75" x2="597.77" y2="169.75" stroke="#c81818" stroke-width="0.6" opacity="0.8"/>
<line x1="607.83" y1="170.26" x2="607.83" y2="171.81" stroke="#c81818" stroke-width="0.6" opacity="0.8"/>
<line x1="606.53" y1="170.26" x2="609.13" y2="170.26" stroke="#c81818" stroke-width="0.6" opacity="0.8"/>
<line x1="606.53" y1="171.81" x2="609.13" y2="171.81" stroke="#c81818" stroke-width="0.6" opacity="0.8"/>
<line x1="619.20" y1="171.55" x2="619.20" y2="173.10" stroke="#c81818" stroke-width="0.6" opacity="0.8"/>
<line x1="617.90" y1="171.55" x2="620.50" y2="171.55" stroke="#c81818" stroke-width="0.6" opacity="0.8"/>
<line x1="617.90" y1="173.10" x2="620.50" y2="173.10" stroke="#c81818" stroke-width="0.6" opacity="0.8"/>
<line x1="630.57" y1="172.59" x2="630.57" y2="174.13" stroke="#c81818" stroke-width="0.6" opacity="0.8"/>
<line x1="629.27" y1="172.59" x2="631.87" y2="172.59" stroke="#c81818" stroke-width="0.6" opacity="0.8"/>
<line x1="629.27" y1="174.13" x2="631.87" y2="174.13" stroke="#c81818" stroke-width="0.6" opacity="0.8"/>
<line x1="641.93" y1="173.62" x2="641.93" y2="174.65" stroke="#c81818" stroke-width="0.6" opacity="0.8"/>
<line x1="640.63" y1="173.62" x2="643.23" y2="173.62" stroke="#c81818" stroke-width="0.6" opacity="0.8"/>
<line x1="640.63" y1="174.65" x2="643.23" y2="174.65" stroke="#c81818" stroke-width="0.6" opacity="0.8"/>
<line x1="653.30" y1="174.39" x2="653.30" y2="175.42" stroke="#c81818" stroke-width="0.6" opacity="0.8"/>
<line x1="652.00" y1="174.39" x2="654.60" y2="174.39" stroke="#c81818" stroke-width="0.6" opacity="0.8"/>
<line x1="652.00" y1="175.42" x2="654.60" y2="175.42" stroke="#c81818" stroke-width="0.6" opacity="0.8"/>
<polyline points="517.47,71.77 518.04,82.18 519.17,85.65 520.31,95.96 521.45,104.99 522.58,114.02 528.27,132.08 533.95,142.40 539.63,147.56 545.32,148.85 551.00,150.14 562.37,152.72 573.73,155.30 585.10,156.07 596.47,155.82 607.83,155.04 619.20,158.40 630.57,159.17 641.93,158.40 653.30,158.65" fill="none" stroke="#b8b8b8" stroke-width="1.0" stroke-linejoin="round"/>
<circle cx="517.47" cy="71.77" r="1.0" fill="#b8b8b8"/>
<circle cx="518.04" cy="82.18" r="1.0" fill="#b8b8b8"/>
<circle cx="519.17" cy="85.65" r="1.0" fill="#b8b8b8"/>
<circle cx="520.31" cy="95.96" r="1.0" fill="#b8b8b8"/>
<circle cx="521.45" cy="104.99" r="1.0" fill="#b8b8b8"/>
<circle cx="522.58" cy="114.02" r="1.0" fill="#b8b8b8"/>
<circle cx="528.27" cy="132.08" r="1.0" fill="#b8b8b8"/>
<circle cx="533.95" cy="142.40" r="1.0" fill="#b8b8b8"/>
<circle cx="539.63" cy="147.56" r="1.0" fill="#b8b8b8"/>
<circle cx="545.32" cy="148.85" r="1.0" fill="#b8b8b8"/>
<circle cx="551.00" cy="150.14" r="1.0" fill="#b8b8b8"/>
<circle cx="562.37" cy="152.72" r="1.0" fill="#b8b8b8"/>
<circle cx="573.73" cy="155.30" r="1.0" fill="#b8b8b8"/>
<circle cx="585.10" cy="156.07" r="1.0" fill="#b8b8b8"/>
<circle cx="596.47" cy="155.82" r="1.0" fill="#b8b8b8"/>
<circle cx="607.83" cy="155.04" r="1.0" fill="#b8b8b8"/>
<circle cx="619.20" cy="158.40" r="1.0" fill="#b8b8b8"/>
<circle cx="630.57" cy="159.17" r="1.0" fill="#b8b8b8"/>
<circle cx="641.93" cy="158.40" r="1.0" fill="#b8b8b8"/>
<circle cx="653.30" cy="158.65" r="1.0" fill="#b8b8b8"/>
<polyline points="517.01,61.36 517.30,47.48 517.58,57.89 517.87,64.83 518.15,68.30 518.43,73.50 518.72,78.71 519.06,83.92 520.54,88.77 521.45,101.12 522.58,109.63 528.27,121.24 533.95,135.95 539.63,151.43 545.32,157.88 551.00,162.01 562.37,166.91 573.73,170.26 585.10,173.10 596.47,174.13 607.83,175.68 619.20,176.46 630.57,176.97 641.93,177.23 653.30,177.49" fill="none" stroke="#6cb548" stroke-width="1.0" stroke-linejoin="round"/>
<circle cx="517.01" cy="61.36" r="1.0" fill="#6cb548"/>
<circle cx="517.30" cy="47.48" r="1.0" fill="#6cb548"/>
<circle cx="517.58" cy="57.89" r="1.0" fill="#6cb548"/>
<circle cx="517.87" cy="64.83" r="1.0" fill="#6cb548"/>
<circle cx="518.15" cy="68.30" r="1.0" fill="#6cb548"/>
<circle cx="518.43" cy="73.50" r="1.0" fill="#6cb548"/>
<circle cx="518.72" cy="78.71" r="1.0" fill="#6cb548"/>
<circle cx="519.06" cy="83.92" r="1.0" fill="#6cb548"/>
<circle cx="520.54" cy="88.77" r="1.0" fill="#6cb548"/>
<circle cx="521.45" cy="101.12" r="1.0" fill="#6cb548"/>
<circle cx="522.58" cy="109.63" r="1.0" fill="#6cb548"/>
<circle cx="528.27" cy="121.24" r="1.0" fill="#6cb548"/>
<circle cx="533.95" cy="135.95" r="1.0" fill="#6cb548"/>
<circle cx="539.63" cy="151.43" r="1.0" fill="#6cb548"/>
<circle cx="545.32" cy="157.88" r="1.0" fill="#6cb548"/>
<circle cx="551.00" cy="162.01" r="1.0" fill="#6cb548"/>
<circle cx="562.37" cy="166.91" r="1.0" fill="#6cb548"/>
<circle cx="573.73" cy="170.26" r="1.0" fill="#6cb548"/>
<circle cx="585.10" cy="173.10" r="1.0" fill="#6cb548"/>
<circle cx="596.47" cy="174.13" r="1.0" fill="#6cb548"/>
<circle cx="607.83" cy="175.68" r="1.0" fill="#6cb548"/>
<circle cx="619.20" cy="176.46" r="1.0" fill="#6cb548"/>
<circle cx="630.57" cy="176.97" r="1.0" fill="#6cb548"/>
<circle cx="641.93" cy="177.23" r="1.0" fill="#6cb548"/>
<circle cx="653.30" cy="177.49" r="1.0" fill="#6cb548"/>
<polyline points="517.47,175.94 518.04,160.46 518.61,147.56 519.17,139.82 520.31,137.24 521.45,142.40 522.58,144.98 528.27,152.72 533.95,159.17 539.63,165.10 545.32,167.68 551.00,169.23 562.37,172.84 573.73,175.42 585.10,175.94 596.47,176.46 607.83,177.23 619.20,177.49 630.57,177.75 641.93,178.00 653.30,178.26" fill="none" stroke="#ff8494" stroke-width="1.0" stroke-linejoin="round"/>
<circle cx="517.47" cy="175.94" r="1.0" fill="#ff8494"/>
<circle cx="518.04" cy="160.46" r="1.0" fill="#ff8494"/>
<circle cx="518.61" cy="147.56" r="1.0" fill="#ff8494"/>
<circle cx="519.17" cy="139.82" r="1.0" fill="#ff8494"/>
<circle cx="520.31" cy="137.24" r="1.0" fill="#ff8494"/>
<circle cx="521.45" cy="142.40" r="1.0" fill="#ff8494"/>
<circle cx="522.58" cy="144.98" r="1.0" fill="#ff8494"/>
<circle cx="528.27" cy="152.72" r="1.0" fill="#ff8494"/>
<circle cx="533.95" cy="159.17" r="1.0" fill="#ff8494"/>
<circle cx="539.63" cy="165.10" r="1.0" fill="#ff8494"/>
<circle cx="545.32" cy="167.68" r="1.0" fill="#ff8494"/>
<circle cx="551.00" cy="169.23" r="1.0" fill="#ff8494"/>
<circle cx="562.37" cy="172.84" r="1.0" fill="#ff8494"/>
<circle cx="573.73" cy="175.42" r="1.0" fill="#ff8494"/>
<circle cx="585.10" cy="175.94" r="1.0" fill="#ff8494"/>
<circle cx="596.47" cy="176.46" r="1.0" fill="#ff8494"/>
<circle cx="607.83" cy="177.23" r="1.0" fill="#ff8494"/>
<circle cx="619.20" cy="177.49" r="1.0" fill="#ff8494"/>
<circle cx="630.57" cy="177.75" r="1.0" fill="#ff8494"/>
<circle cx="641.93" cy="178.00" r="1.0" fill="#ff8494"/>
<circle cx="653.30" cy="178.26" r="1.0" fill="#ff8494"/>
<polyline points="517.47,94.03 518.04,114.02 518.61,129.50 519.17,139.82 520.31,144.98 521.45,149.62 522.58,151.43 528.27,158.40 533.95,162.52 539.63,167.68 545.32,169.75 551.00,170.78 562.37,172.59 573.73,175.42 585.10,175.94 596.47,176.71 607.83,177.49 619.20,177.75 630.57,178.00 641.93,178.26 653.30,178.52" fill="none" stroke="#8a64f4" stroke-width="1.0" stroke-linejoin="round"/>
<circle cx="517.47" cy="94.03" r="1.0" fill="#8a64f4"/>
<circle cx="518.04" cy="114.02" r="1.0" fill="#8a64f4"/>
<circle cx="518.61" cy="129.50" r="1.0" fill="#8a64f4"/>
<circle cx="519.17" cy="139.82" r="1.0" fill="#8a64f4"/>
<circle cx="520.31" cy="144.98" r="1.0" fill="#8a64f4"/>
<circle cx="521.45" cy="149.62" r="1.0" fill="#8a64f4"/>
<circle cx="522.58" cy="151.43" r="1.0" fill="#8a64f4"/>
<circle cx="528.27" cy="158.40" r="1.0" fill="#8a64f4"/>
<circle cx="533.95" cy="162.52" r="1.0" fill="#8a64f4"/>
<circle cx="539.63" cy="167.68" r="1.0" fill="#8a64f4"/>
<circle cx="545.32" cy="169.75" r="1.0" fill="#8a64f4"/>
<circle cx="551.00" cy="170.78" r="1.0" fill="#8a64f4"/>
<circle cx="562.37" cy="172.59" r="1.0" fill="#8a64f4"/>
<circle cx="573.73" cy="175.42" r="1.0" fill="#8a64f4"/>
<circle cx="585.10" cy="175.94" r="1.0" fill="#8a64f4"/>
<circle cx="596.47" cy="176.71" r="1.0" fill="#8a64f4"/>
<circle cx="607.83" cy="177.49" r="1.0" fill="#8a64f4"/>
<circle cx="619.20" cy="177.75" r="1.0" fill="#8a64f4"/>
<circle cx="630.57" cy="178.00" r="1.0" fill="#8a64f4"/>
<circle cx="641.93" cy="178.26" r="1.0" fill="#8a64f4"/>
<circle cx="653.30" cy="178.52" r="1.0" fill="#8a64f4"/>
<polyline points="516.90,178.52 517.47,168.20 518.04,152.72 518.61,142.40 519.17,139.30 519.74,138.27 520.31,137.24 521.45,137.76 522.58,138.27 528.27,140.34 533.95,144.46 539.63,148.33 545.32,151.69 551.00,154.78 562.37,158.91 573.73,162.78 585.10,165.62 596.47,168.72 607.83,171.04 619.20,172.33 630.57,173.36 641.93,174.13 653.30,174.91" fill="none" stroke="#c81818" stroke-width="1.4" stroke-linejoin="round"/>
<circle cx="516.90" cy="178.52" r="1.2" fill="#c81818"/>
<circle cx="517.47" cy="168.20" r="1.2" fill="#c81818"/>
<circle cx="518.04" cy="152.72" r="1.2" fill="#c81818"/>
<circle cx="518.61" cy="142.40" r="1.2" fill="#c81818"/>
<circle cx="519.17" cy="139.30" r="1.2" fill="#c81818"/>
<circle cx="519.74" cy="138.27" r="1.2" fill="#c81818"/>
<circle cx="520.31" cy="137.24" r="1.2" fill="#c81818"/>
<circle cx="521.45" cy="137.76" r="1.2" fill="#c81818"/>
<circle cx="522.58" cy="138.27" r="1.2" fill="#c81818"/>
<circle cx="528.27" cy="140.34" r="1.2" fill="#c81818"/>
<circle cx="533.95" cy="144.46" r="1.2" fill="#c81818"/>
<circle cx="539.63" cy="148.33" r="1.2" fill="#c81818"/>
<circle cx="545.32" cy="151.69" r="1.2" fill="#c81818"/>
<circle cx="551.00" cy="154.78" r="1.2" fill="#c81818"/>
<circle cx="562.37" cy="158.91" r="1.2" fill="#c81818"/>
<circle cx="573.73" cy="162.78" r="1.2" fill="#c81818"/>
<circle cx="585.10" cy="165.62" r="1.2" fill="#c81818"/>
<circle cx="596.47" cy="168.72" r="1.2" fill="#c81818"/>
<circle cx="607.83" cy="171.04" r="1.2" fill="#c81818"/>
<circle cx="619.20" cy="172.33" r="1.2" fill="#c81818"/>
<circle cx="630.57" cy="173.36" r="1.2" fill="#c81818"/>
<circle cx="641.93" cy="174.13" r="1.2" fill="#c81818"/>
<circle cx="653.30" cy="174.91" r="1.2" fill="#c81818"/>
<path d="M514.5,33.6 V90.6 M514.5,94.4 V181.5 H653.8" fill="none" stroke="#1a1a1a" stroke-width="1"/>
<path d="M512.0,91.6 L517.0,89.6 M512.0,94.6 L517.0,92.6" stroke="#222" stroke-width="0.9"/>
<line x1="512.3" y1="33.60" x2="514.5" y2="33.60" stroke="#222" stroke-width="0.9"/>
<text x="511.0" y="36.10" text-anchor="end" class="tk">20</text>
<line x1="512.3" y1="47.48" x2="514.5" y2="47.48" stroke="#222" stroke-width="0.9"/>
<text x="511.0" y="49.98" text-anchor="end" class="tk">16</text>
<line x1="512.3" y1="61.36" x2="514.5" y2="61.36" stroke="#222" stroke-width="0.9"/>
<text x="511.0" y="63.86" text-anchor="end" class="tk">12</text>
<line x1="512.3" y1="75.24" x2="514.5" y2="75.24" stroke="#222" stroke-width="0.9"/>
<text x="511.0" y="77.74" text-anchor="end" class="tk">8</text>
<line x1="512.3" y1="89.12" x2="514.5" y2="89.12" stroke="#222" stroke-width="0.9"/>
<text x="511.0" y="91.62" text-anchor="end" class="tk">4</text>
<line x1="513.2" y1="40.54" x2="514.5" y2="40.54" stroke="#222" stroke-width="0.8"/>
<line x1="513.2" y1="54.42" x2="514.5" y2="54.42" stroke="#222" stroke-width="0.8"/>
<line x1="513.2" y1="68.30" x2="514.5" y2="68.30" stroke="#222" stroke-width="0.8"/>
<line x1="513.2" y1="82.18" x2="514.5" y2="82.18" stroke="#222" stroke-width="0.8"/>
<line x1="512.3" y1="181.10" x2="514.5" y2="181.10" stroke="#222" stroke-width="0.9"/>
<text x="511.0" y="183.60" text-anchor="end" class="tk">0.0</text>
<line x1="512.3" y1="168.20" x2="514.5" y2="168.20" stroke="#222" stroke-width="0.9"/>
<text x="511.0" y="170.70" text-anchor="end" class="tk">0.5</text>
<line x1="512.3" y1="155.30" x2="514.5" y2="155.30" stroke="#222" stroke-width="0.9"/>
<text x="511.0" y="157.80" text-anchor="end" class="tk">1.0</text>
<line x1="512.3" y1="142.40" x2="514.5" y2="142.40" stroke="#222" stroke-width="0.9"/>
<text x="511.0" y="144.90" text-anchor="end" class="tk">1.5</text>
<line x1="512.3" y1="129.50" x2="514.5" y2="129.50" stroke="#222" stroke-width="0.9"/>
<text x="511.0" y="132.00" text-anchor="end" class="tk">2.0</text>
<line x1="512.3" y1="116.60" x2="514.5" y2="116.60" stroke="#222" stroke-width="0.9"/>
<text x="511.0" y="119.10" text-anchor="end" class="tk">2.5</text>
<line x1="512.3" y1="103.70" x2="514.5" y2="103.70" stroke="#222" stroke-width="0.9"/>
<text x="511.0" y="106.20" text-anchor="end" class="tk">3.0</text>
<line x1="513.2" y1="174.65" x2="514.5" y2="174.65" stroke="#222" stroke-width="0.8"/>
<line x1="513.2" y1="161.75" x2="514.5" y2="161.75" stroke="#222" stroke-width="0.8"/>
<line x1="513.2" y1="148.85" x2="514.5" y2="148.85" stroke="#222" stroke-width="0.8"/>
<line x1="513.2" y1="135.95" x2="514.5" y2="135.95" stroke="#222" stroke-width="0.8"/>
<line x1="513.2" y1="123.05" x2="514.5" y2="123.05" stroke="#222" stroke-width="0.8"/>
<line x1="513.2" y1="110.15" x2="514.5" y2="110.15" stroke="#222" stroke-width="0.8"/>
<line x1="516.90" y1="181.1" x2="516.90" y2="183.4" stroke="#222" stroke-width="0.9"/>
<text x="516.90" y="190.6" text-anchor="middle" class="tk">0</text>
<line x1="539.63" y1="181.1" x2="539.63" y2="183.4" stroke="#222" stroke-width="0.9"/>
<text x="539.63" y="190.6" text-anchor="middle" class="tk">20</text>
<line x1="562.37" y1="181.1" x2="562.37" y2="183.4" stroke="#222" stroke-width="0.9"/>
<text x="562.37" y="190.6" text-anchor="middle" class="tk">40</text>
<line x1="585.10" y1="181.1" x2="585.10" y2="183.4" stroke="#222" stroke-width="0.9"/>
<text x="585.10" y="190.6" text-anchor="middle" class="tk">60</text>
<line x1="607.83" y1="181.1" x2="607.83" y2="183.4" stroke="#222" stroke-width="0.9"/>
<text x="607.83" y="190.6" text-anchor="middle" class="tk">80</text>
<line x1="630.57" y1="181.1" x2="630.57" y2="183.4" stroke="#222" stroke-width="0.9"/>
<text x="630.57" y="190.6" text-anchor="middle" class="tk">100</text>
<line x1="653.30" y1="181.1" x2="653.30" y2="183.4" stroke="#222" stroke-width="0.9"/>
<text x="653.30" y="190.6" text-anchor="middle" class="tk">120</text>
<line x1="528.27" y1="181.1" x2="528.27" y2="182.6" stroke="#222" stroke-width="0.8"/>
<line x1="551.00" y1="181.1" x2="551.00" y2="182.6" stroke="#222" stroke-width="0.8"/>
<line x1="573.73" y1="181.1" x2="573.73" y2="182.6" stroke="#222" stroke-width="0.8"/>
<line x1="596.47" y1="181.1" x2="596.47" y2="182.6" stroke="#222" stroke-width="0.8"/>
<line x1="619.20" y1="181.1" x2="619.20" y2="182.6" stroke="#222" stroke-width="0.8"/>
<line x1="641.93" y1="181.1" x2="641.93" y2="182.6" stroke="#222" stroke-width="0.8"/>
<text x="584.4" y="207.3" text-anchor="middle" font-size="12.3" font-weight="bold">Time (min)</text>
<text transform="translate(494.3,107.2) rotate(-90)" text-anchor="middle" font-size="10.35" font-weight="bold">Tracer Uptake (%ID/g)</text>
<line x1="615.7" y1="41.1" x2="630.7" y2="41.1" stroke="#c81818" stroke-width="1.4"/>
<circle cx="623.2" cy="41.1" r="1.1" fill="#c81818"/>
<text x="632.6" y="43.70" class="lg">Huh7</text>
<line x1="615.7" y1="50.7" x2="630.7" y2="50.7" stroke="#6cb548" stroke-width="1.0"/>
<circle cx="623.2" cy="50.7" r="1.1" fill="#6cb548"/>
<text x="632.6" y="53.30" class="lg">Heart</text>
<line x1="615.7" y1="60.0" x2="630.7" y2="60.0" stroke="#b8b8b8" stroke-width="1.0"/>
<circle cx="623.2" cy="60.0" r="1.1" fill="#b8b8b8"/>
<text x="632.6" y="62.60" class="lg">Liver</text>
<line x1="615.7" y1="68.8" x2="630.7" y2="68.8" stroke="#ff8494" stroke-width="1.0"/>
<circle cx="623.2" cy="68.8" r="1.1" fill="#ff8494"/>
<text x="632.6" y="71.40" class="lg">Muscle</text>
<line x1="615.7" y1="78.5" x2="630.7" y2="78.5" stroke="#8a64f4" stroke-width="1.0"/>
<circle cx="623.2" cy="78.5" r="1.1" fill="#8a64f4"/>
<text x="632.6" y="81.10" class="lg">Bone</text>
<line x1="456.90" y1="345.39" x2="456.90" y2="349.16" stroke="#333" stroke-width="0.8"/>
<line x1="455.10" y1="345.39" x2="458.70" y2="345.39" stroke="#333" stroke-width="1"/>
<rect x="451.40" y="349.16" width="11.00" height="18.84" fill="#f7dbe6" stroke="#b9a5ad" stroke-width="0.8"/>
<text transform="translate(467.10,379.4) rotate(-29)" text-anchor="end" class="xl">MC38</text>
<line x1="475.77" y1="339.74" x2="475.77" y2="342.88" stroke="#333" stroke-width="0.8"/>
<line x1="473.97" y1="339.74" x2="477.57" y2="339.74" stroke="#333" stroke-width="1"/>
<rect x="470.27" y="342.88" width="11.00" height="25.12" fill="#f5a966" stroke="#c08050" stroke-width="0.8"/>
<text transform="translate(485.97,379.4) rotate(-29)" text-anchor="end" class="xl">H1975</text>
<line x1="494.64" y1="328.12" x2="494.64" y2="333.46" stroke="#333" stroke-width="0.8"/>
<line x1="492.84" y1="328.12" x2="496.44" y2="328.12" stroke="#333" stroke-width="1"/>
<rect x="489.14" y="333.46" width="11.00" height="34.54" fill="#b3e0b0" stroke="#88a888" stroke-width="0.8"/>
<text transform="translate(504.84,379.4) rotate(-29)" text-anchor="end" class="xl">Huh7</text>
<line x1="513.51" y1="349.47" x2="513.51" y2="351.20" stroke="#333" stroke-width="0.8"/>
<line x1="511.71" y1="349.47" x2="515.31" y2="349.47" stroke="#333" stroke-width="1"/>
<rect x="508.01" y="351.20" width="11.00" height="16.80" fill="#8798d4" stroke="#6a78a8" stroke-width="0.8"/>
<text transform="translate(523.71,379.4) rotate(-29)" text-anchor="end" class="xl">Huh7 blocking</text>
<line x1="532.38" y1="365.17" x2="532.38" y2="365.90" stroke="#333" stroke-width="0.8"/>
<line x1="530.58" y1="365.17" x2="534.18" y2="365.17" stroke="#333" stroke-width="1"/>
<rect x="526.88" y="365.90" width="11.00" height="2.10" fill="#c8c8c8" stroke="#8a8a8a" stroke-width="0.8"/>
<text transform="translate(542.58,379.4) rotate(-29)" text-anchor="end" class="xl">Brain</text>
<line x1="551.25" y1="357.32" x2="551.25" y2="359.21" stroke="#333" stroke-width="0.8"/>
<line x1="549.45" y1="357.32" x2="553.05" y2="357.32" stroke="#333" stroke-width="1"/>
<rect x="545.75" y="359.21" width="11.00" height="8.79" fill="#c8c8c8" stroke="#8a8a8a" stroke-width="0.8"/>
<text transform="translate(561.45,379.4) rotate(-29)" text-anchor="end" class="xl">Heart</text>
<line x1="570.12" y1="360.78" x2="570.12" y2="362.03" stroke="#333" stroke-width="0.8"/>
<line x1="568.32" y1="360.78" x2="571.92" y2="360.78" stroke="#333" stroke-width="1"/>
<rect x="564.62" y="362.03" width="11.00" height="5.97" fill="#c8c8c8" stroke="#8a8a8a" stroke-width="0.8"/>
<text transform="translate(580.32,379.4) rotate(-29)" text-anchor="end" class="xl">Lungs</text>
<line x1="588.99" y1="334.40" x2="588.99" y2="343.19" stroke="#333" stroke-width="0.8"/>
<line x1="587.19" y1="334.40" x2="590.79" y2="334.40" stroke="#333" stroke-width="1"/>
<rect x="583.49" y="343.19" width="11.00" height="24.81" fill="#c8c8c8" stroke="#8a8a8a" stroke-width="0.8"/>
<text transform="translate(599.19,379.4) rotate(-29)" text-anchor="end" class="xl">Liver</text>
<line x1="607.86" y1="254.54" x2="607.86" y2="276.13" stroke="#333" stroke-width="0.8"/>
<line x1="606.06" y1="254.54" x2="609.66" y2="254.54" stroke="#333" stroke-width="1"/>
<rect x="602.36" y="276.13" width="11.00" height="91.87" fill="#c8c8c8" stroke="#8a8a8a" stroke-width="0.8"/>
<text transform="translate(618.06,379.4) rotate(-29)" text-anchor="end" class="xl">Kidneys</text>
<line x1="626.73" y1="361.41" x2="626.73" y2="362.66" stroke="#333" stroke-width="0.8"/>
<line x1="624.93" y1="361.41" x2="628.53" y2="361.41" stroke="#333" stroke-width="1"/>
<rect x="621.23" y="362.66" width="11.00" height="5.34" fill="#c8c8c8" stroke="#8a8a8a" stroke-width="0.8"/>
<text transform="translate(636.93,379.4) rotate(-29)" text-anchor="end" class="xl">Muscle</text>
<line x1="645.60" y1="360.46" x2="645.60" y2="362.35" stroke="#333" stroke-width="0.8"/>
<line x1="643.80" y1="360.46" x2="647.40" y2="360.46" stroke="#333" stroke-width="1"/>
<rect x="640.10" y="362.35" width="11.00" height="5.65" fill="#c8c8c8" stroke="#8a8a8a" stroke-width="0.8"/>
<text transform="translate(655.80,379.4) rotate(-29)" text-anchor="end" class="xl">Bone</text>
<rect x="601.46" y="303.3" width="12.80" height="2.1" fill="#fff"/>
<path d="M438.0,240 V303.2 M438.0,306.2 V368.3 H655.9" fill="none" stroke="#555" stroke-width="1.3"/>
<path d="M435.4,304.6 L440.6,302.4 M435.4,307.2 L440.6,305.0" stroke="#333" stroke-width="0.9"/>
<text x="432.2" y="242.20" text-anchor="end" class="tkd">20</text>
<text x="432.2" y="254.90" text-anchor="end" class="tkd">19</text>
<text x="432.2" y="267.60" text-anchor="end" class="tkd">18</text>
<text x="432.2" y="280.30" text-anchor="end" class="tkd">17</text>
<text x="432.2" y="293.00" text-anchor="end" class="tkd">16</text>
<text x="432.2" y="305.70" text-anchor="end" class="tkd">15</text>
<text x="432.4" y="323.80" text-anchor="end" class="tkd">1.5</text>
<text x="432.4" y="339.50" text-anchor="end" class="tkd">1.0</text>
<text x="432.4" y="355.20" text-anchor="end" class="tkd">0.5</text>
<text x="432.4" y="370.90" text-anchor="end" class="tkd">0.0</text>
<line x1="456.90" y1="368.3" x2="456.90" y2="370.6" stroke="#333" stroke-width="0.9"/>
<line x1="475.77" y1="368.3" x2="475.77" y2="370.6" stroke="#333" stroke-width="0.9"/>
<path d="M493.6,318.9 V305.8 H513.4 V339.8" fill="none" stroke="#444" stroke-width="1"/>
<text x="503.3" y="304.9" text-anchor="middle" font-size="11" font-weight="bold">**</text>
<text transform="translate(416.2,305.0) rotate(-90)" text-anchor="middle" font-size="12.3" font-weight="bold">Tracer Uptake (%ID/g)</text>
</svg></body></html>
